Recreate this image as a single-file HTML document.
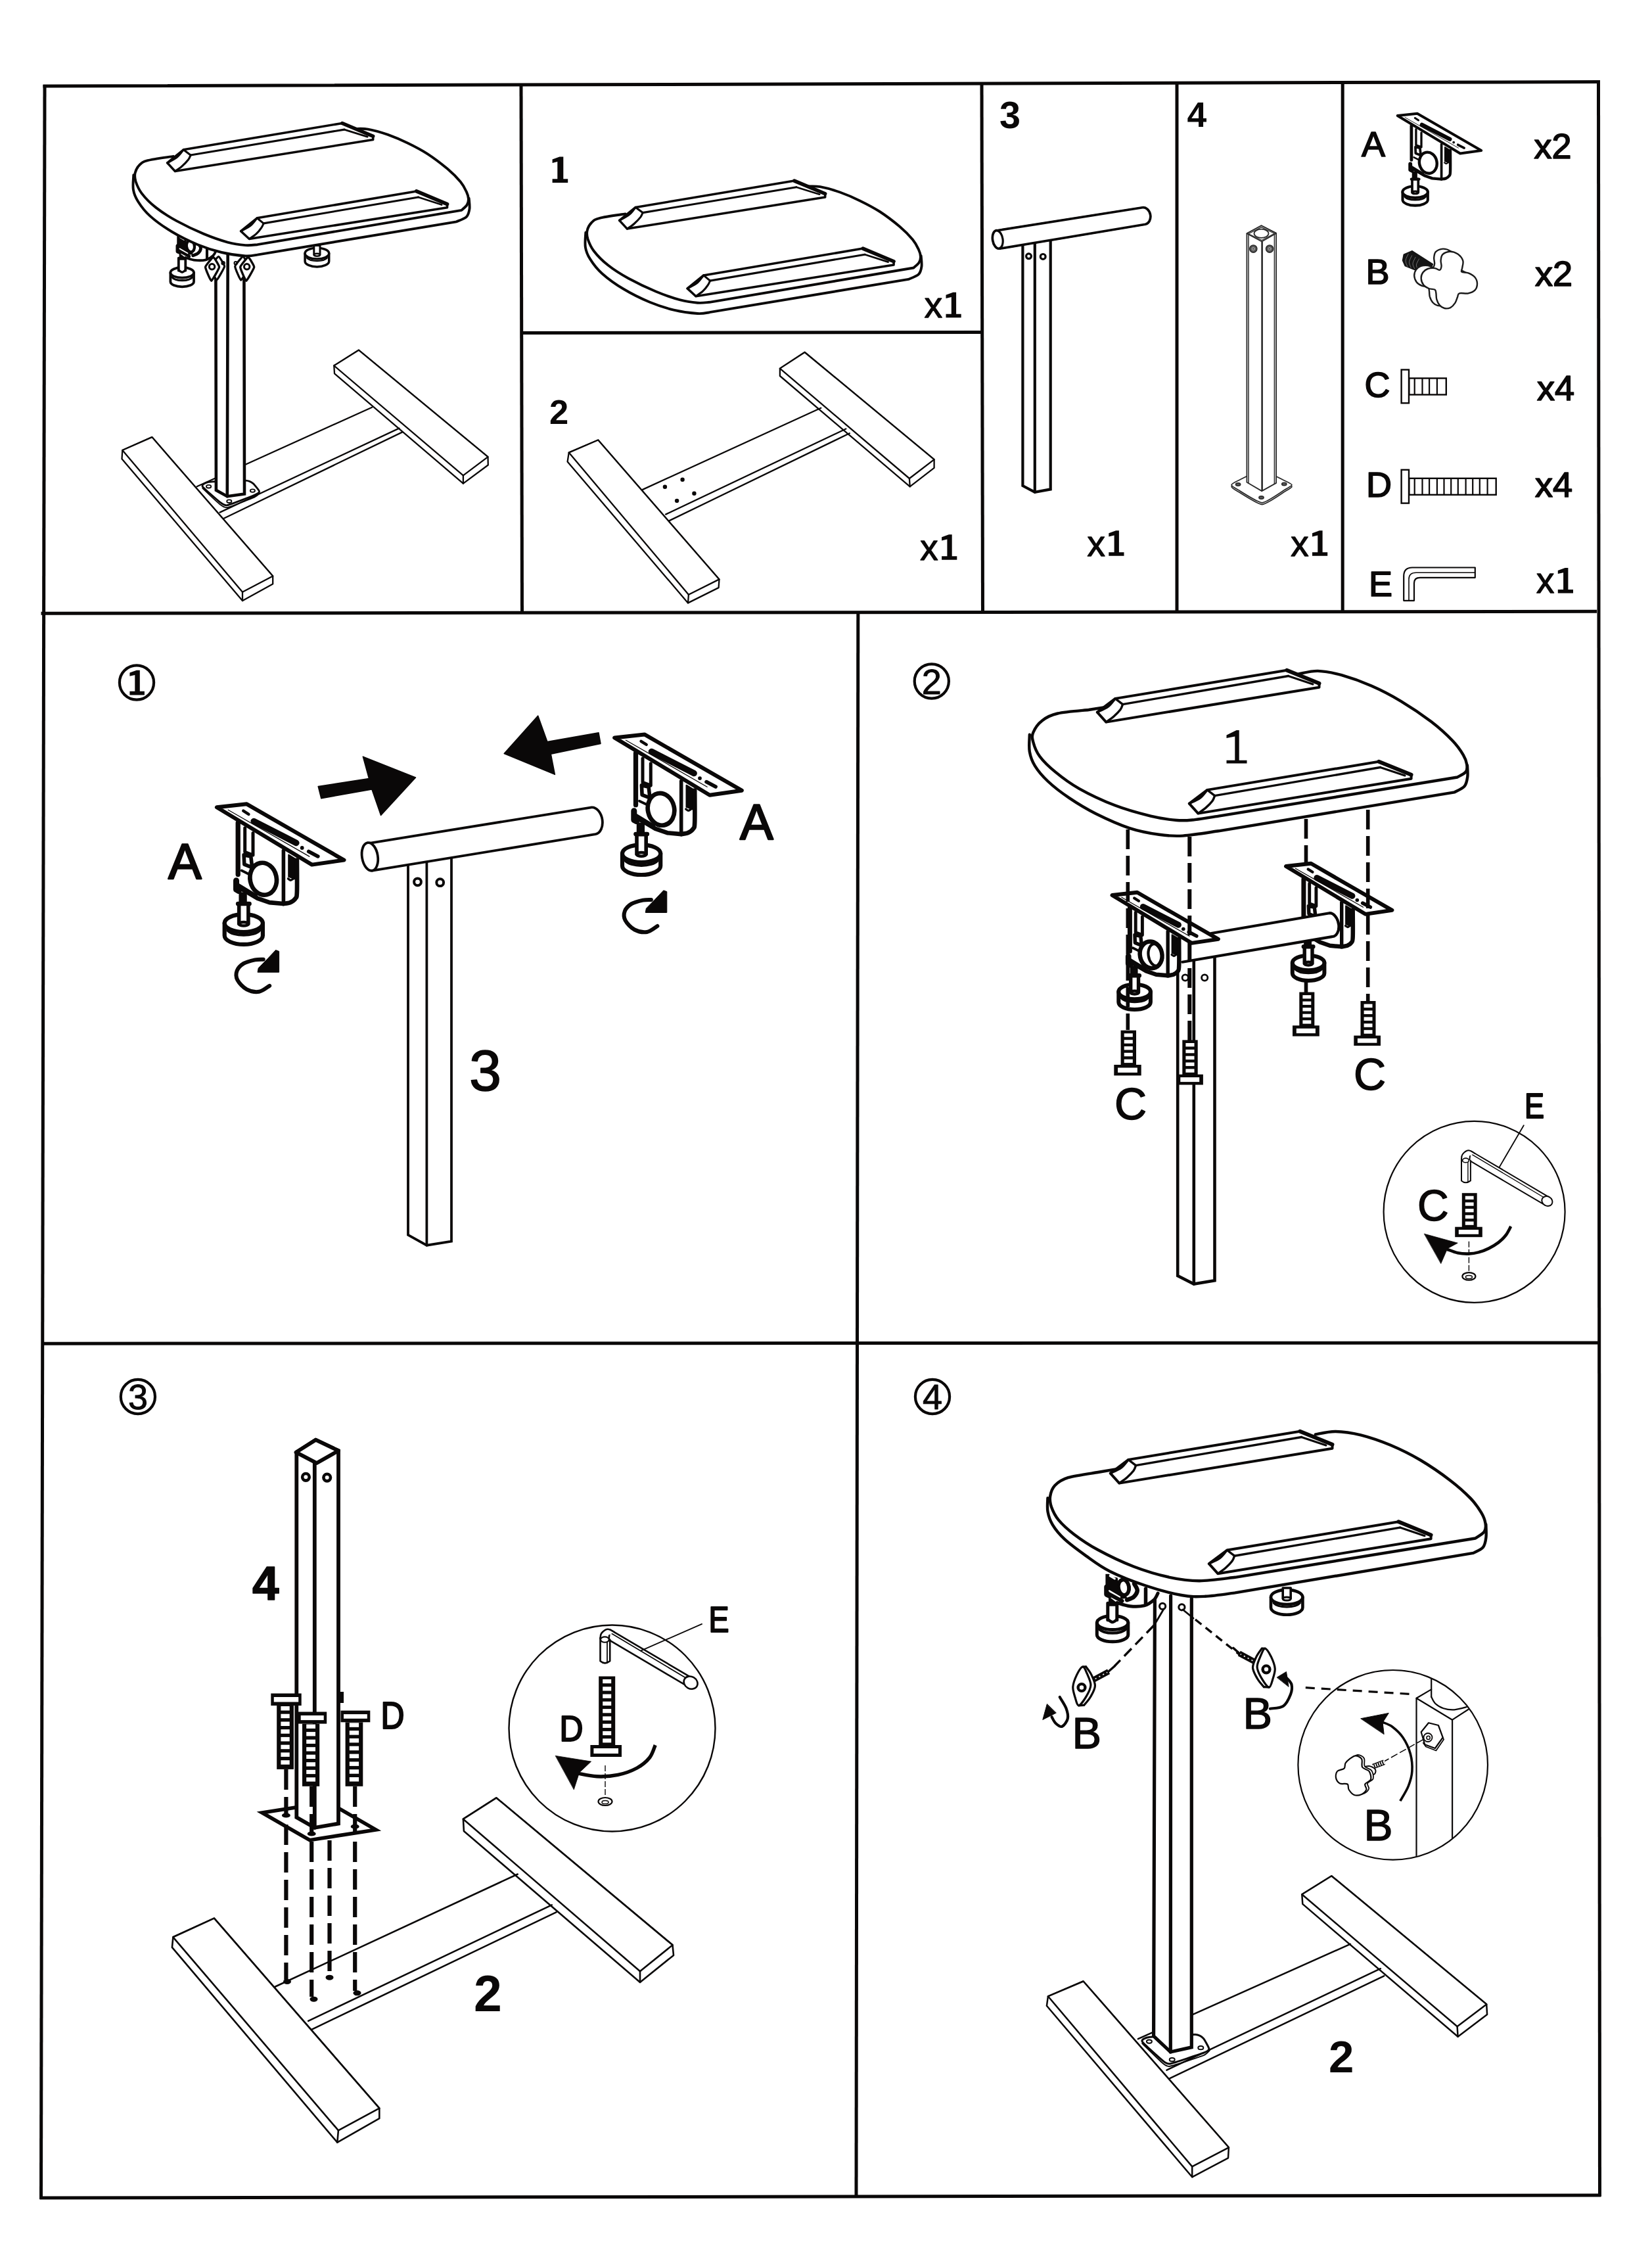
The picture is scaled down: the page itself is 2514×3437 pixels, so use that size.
<!DOCTYPE html>
<html><head><meta charset="utf-8"><title>Assembly instructions</title>
<style>
html,body{margin:0;padding:0;background:#fff;}
body{width:2514px;height:3437px;overflow:hidden;}
svg{display:block;font-family:"Liberation Sans",sans-serif;}
</style></head><body>
<svg width="2514" height="3437" viewBox="0 0 2514 3437">
<rect x="0" y="0" width="2514" height="3437" fill="#ffffff"/>
<line x1="68" y1="131" x2="2432.5" y2="124.5" fill="none" stroke="#0a0808" stroke-width="5" stroke-linecap="square" stroke-linejoin="round"/>
<line x1="68" y1="129" x2="62.5" y2="3346" fill="none" stroke="#0a0808" stroke-width="5" stroke-linejoin="round"/>
<line x1="2432.5" y1="122" x2="2434.5" y2="3342" fill="none" stroke="#0a0808" stroke-width="5" stroke-linejoin="round"/>
<line x1="60.5" y1="3344" x2="2436" y2="3340" fill="none" stroke="#0a0808" stroke-width="5" stroke-linejoin="round"/>
<line x1="62.5" y1="933.2" x2="2430" y2="930.3" fill="none" stroke="#0a0808" stroke-width="5" stroke-linejoin="round"/>
<line x1="64" y1="2044.2" x2="2434" y2="2043" fill="none" stroke="#0a0808" stroke-width="5" stroke-linejoin="round"/>
<line x1="1305.8" y1="931" x2="1303" y2="3342" fill="none" stroke="#0a0808" stroke-width="5" stroke-linejoin="round"/>
<line x1="793" y1="129" x2="794.5" y2="933" fill="none" stroke="#0a0808" stroke-width="5" stroke-linejoin="round"/>
<line x1="1494" y1="127" x2="1495.5" y2="933" fill="none" stroke="#0a0808" stroke-width="5" stroke-linejoin="round"/>
<line x1="1791" y1="126" x2="1791" y2="932" fill="none" stroke="#0a0808" stroke-width="5" stroke-linejoin="round"/>
<line x1="2043.2" y1="125.5" x2="2043.2" y2="931.5" fill="none" stroke="#0a0808" stroke-width="5" stroke-linejoin="round"/>
<line x1="794" y1="506.5" x2="1495" y2="505.5" fill="none" stroke="#0a0808" stroke-width="5" stroke-linejoin="round"/>
<circle cx="208" cy="1038.5" r="26.1" fill="none" stroke="#0a0808" stroke-width="4.2" stroke-linecap="round" stroke-linejoin="round"/>
<path d="M212.8,1019.7L212.8,1051.7L219.9,1051.7L219.9,1057.4L197.4,1057.4L197.4,1051.7L205.3,1051.7L205.3,1026.9L197.4,1028.7L197.4,1023.4L207.9,1019.7Z" fill="#0a0808"/>
<circle cx="1417.8" cy="1036.5" r="26.1" fill="none" stroke="#0a0808" stroke-width="4.2" stroke-linecap="round" stroke-linejoin="round"/>
<text x="1417.8" y="1055.8" font-size="54" font-weight="normal" text-anchor="middle" fill="#0a0808" stroke="#0a0808" stroke-width="0.9" stroke-linejoin="round" >2</text>
<circle cx="209.9" cy="2125" r="26.1" fill="none" stroke="#0a0808" stroke-width="4.2" stroke-linecap="round" stroke-linejoin="round"/>
<text x="209.9" y="2144.3" font-size="54" font-weight="normal" text-anchor="middle" fill="#0a0808" stroke="#0a0808" stroke-width="0.9" stroke-linejoin="round" >3</text>
<circle cx="1419" cy="2125" r="26.1" fill="none" stroke="#0a0808" stroke-width="4.2" stroke-linecap="round" stroke-linejoin="round"/>
<text x="1419" y="2144.3" font-size="54" font-weight="normal" text-anchor="middle" fill="#0a0808" stroke="#0a0808" stroke-width="0.9" stroke-linejoin="round" >4</text>
<path d="M186.3,685L185.5,698.2L369,914L415.2,888.4L415.2,876.4L231.3,665.1Z" fill="#fff" stroke="#0a0808" stroke-width="2.3" stroke-linecap="round" stroke-linejoin="round"/>
<path d="M186.3,685L231.3,665.1L415.2,876.4L369,900.8Z" fill="#fff" stroke="#0a0808" stroke-width="2.3" stroke-linecap="round" stroke-linejoin="round"/>
<path d="M369,900.8L369,914" fill="none" stroke="#0a0808" stroke-width="2.3" stroke-linecap="round" stroke-linejoin="round"/>
<path d="M508.3,556.3L509,568.3L704.9,735.7L742.8,707.5L742.5,695.2L545.8,532.7Z" fill="#fff" stroke="#0a0808" stroke-width="2.3" stroke-linecap="round" stroke-linejoin="round"/>
<path d="M508.3,556.3L545.8,532.7L742.5,695.2L704.9,723.3Z" fill="#fff" stroke="#0a0808" stroke-width="2.3" stroke-linecap="round" stroke-linejoin="round"/>
<path d="M704.9,723.3L704.9,735.7" fill="none" stroke="#0a0808" stroke-width="2.3" stroke-linecap="round" stroke-linejoin="round"/>
<path d="M299.6,740.2L566.1,619.7" fill="none" stroke="#0a0808" stroke-width="2.3" stroke-linecap="round" stroke-linejoin="round"/>
<path d="M334.5,779.6L607.4,651.6" fill="none" stroke="#0a0808" stroke-width="2.3" stroke-linecap="round" stroke-linejoin="round"/>
<path d="M340.1,789L611.9,657.6" fill="none" stroke="#0a0808" stroke-width="2.3" stroke-linecap="round" stroke-linejoin="round"/>
<path d="M308.2,740.2C306.8,737.7 312.2,734.2 317.6,733.4C323.1,732.7 368.3,731 373.9,731.2C379.6,731.4 383.5,734.3 385.2,735.7C386.9,737.1 394.4,746.2 394.6,747.7C394.7,749.2 391.1,751.6 387.1,753.3C383,755.1 350.2,767.8 345.8,768.7C341.4,769.6 337.6,766.2 334.5,763.8C331.4,761.5 309.7,742.7 308.2,740.2Z" fill="#fff" stroke="#0a0808" stroke-width="2.8" stroke-linecap="round" stroke-linejoin="round"/>
<path d="M308.2,742.8C310.4,744.9 331.4,764.8 334.5,767.2C337.6,769.7 341.4,773 345.8,772.1C350.2,771.2 382.9,758.5 387.1,756.7C391.2,754.9 394.6,750.9 395.3,750.3" fill="none" stroke="#0a0808" stroke-width="1.8" stroke-linecap="round" stroke-linejoin="round"/>
<ellipse cx="317.6" cy="740.2" rx="3.6" ry="2.3" fill="#fff" stroke="#0a0808" stroke-width="1.8" stroke-linecap="round" stroke-linejoin="round"/>
<ellipse cx="348.8" cy="762.7" rx="3.6" ry="2.3" fill="#fff" stroke="#0a0808" stroke-width="1.8" stroke-linecap="round" stroke-linejoin="round"/>
<ellipse cx="384.4" cy="746.6" rx="3.6" ry="2.3" fill="#fff" stroke="#0a0808" stroke-width="1.8" stroke-linecap="round" stroke-linejoin="round"/>
<path d="M328.4,420L328.9,745.8L345.8,755.2L372,751.5L371.4,420" fill="#fff" stroke="#0a0808" stroke-width="4.6" stroke-linecap="round"/>
<path d="M346.7,385L345.8,755.2" fill="none" stroke="#0a0808" stroke-width="4.6" stroke-linecap="round" stroke-linejoin="round"/>
<path d="M259.4,414.8L259.4,428.5A17.8,7.9 0 0 0 295,428.5L295,414.8" fill="#fff" stroke="#0a0808" stroke-width="3.8" stroke-linecap="round" stroke-linejoin="round"/>
<ellipse cx="277.2" cy="414.8" rx="17.8" ry="7.9" fill="#fff" stroke="#0a0808" stroke-width="3.8" stroke-linecap="round" stroke-linejoin="round"/>
<path d="M262,421.8A15.9,6.7 0 0 0 292.5,421.8" fill="none" stroke="#0a0808" stroke-width="3.2" stroke-linecap="round" stroke-linejoin="round"/>
<path d="M271.8,411.7L271.8,392.6L282.3,392.6L282.3,411.7" fill="#fff" stroke="#0a0808" stroke-width="3.8" stroke-linecap="round" stroke-linejoin="round"/>
<path d="M271.8,411C272.7,411.5 275.5,414.2 277.2,414.2C279,414.2 281.5,411.5 282.3,411" fill="none" stroke="#0a0808" stroke-width="3.4" stroke-linecap="round" stroke-linejoin="round"/>
<path d="M273.4,386.2L281,386.2L281,395.1L273.4,395.1Z" fill="#0a0808" stroke="#0a0808" stroke-width="1.5" stroke-linecap="round" stroke-linejoin="round"/>
<path d="M271.5,358.9L271.5,383.7L282.3,392L296.9,395.8L313.4,395.1L324.3,388.8L328.7,379.9L309.6,369.1L288,360.8Z" fill="#fff"/>
<path d="M282.3,392C284.7,392.6 291.7,395.3 296.9,395.9C302.1,396.4 308.9,396.4 313.4,395.3C318,394.1 321.7,391.3 324.3,388.9C326.8,386.5 328.2,382.4 329,381.1" fill="none" stroke="#0a0808" stroke-width="3.8" stroke-linecap="round" stroke-linejoin="round"/>
<path d="M315,376.1L315,392.9" fill="none" stroke="#0a0808" stroke-width="4.1" stroke-linecap="round" stroke-linejoin="round"/>
<path d="M302,370.3C302.6,371.6 305.6,375.5 305.5,378C305.4,380.5 303.3,383.5 301.4,385.3C299.4,387.1 295,388.2 293.7,388.8" fill="none" stroke="#0a0808" stroke-width="4.9" stroke-linecap="round" stroke-linejoin="round"/>
<ellipse cx="289.9" cy="374.5" rx="5.8" ry="8.6" fill="#fff" stroke="#0a0808" stroke-width="4.9" stroke-linecap="round" stroke-linejoin="round" transform="rotate(-8 289.9 374.5)"/>
<path d="M273.4,362.7L282.3,364L284.2,378L293.1,386.2L288,386.9L273.4,378Z" fill="#0a0808" stroke="#0a0808" stroke-width="1.5" stroke-linecap="round" stroke-linejoin="round"/>
<ellipse cx="289.9" cy="374.5" rx="3.8" ry="6.7" fill="#fff" transform="rotate(-8 289.9 374.5)"/>
<path d="M271.5,359.2L271.5,373.5" fill="none" stroke="#0a0808" stroke-width="4.5" stroke-linejoin="round"/>
<path d="M270.5,374.2L270.5,382.4L273.4,383.7" fill="none" stroke="#0a0808" stroke-width="6" stroke-linecap="round" stroke-linejoin="round"/>
<path d="M271.5,381.1L288,390" fill="none" stroke="#0a0808" stroke-width="4.5" stroke-linecap="round" stroke-linejoin="round"/>
<path d="M273.4,378.3L285.5,385.3" fill="none" stroke="#fff" stroke-width="1.7" stroke-linecap="round" stroke-linejoin="round"/>
<path d="M274.4,361.4L279.8,364.6" fill="none" stroke="#fff" stroke-width="2.2" stroke-linecap="round" stroke-linejoin="round"/>
<path d="M464.1,385.6L464.1,397.5A18.3,8.4 0 0 0 500.7,397.5L500.7,385.6" fill="#fff" stroke="#0a0808" stroke-width="3.5" stroke-linecap="round" stroke-linejoin="round"/>
<ellipse cx="482.4" cy="385.6" rx="18.3" ry="8.4" fill="#fff" stroke="#0a0808" stroke-width="3.5" stroke-linecap="round" stroke-linejoin="round"/>
<path d="M467,392.5A16.4,6.9 0 0 0 497.8,392.5" fill="none" stroke="#0a0808" stroke-width="2.3" stroke-linecap="round" stroke-linejoin="round"/>
<path d="M477.8,387.6L477.8,373.6L487,373.6L487,387.6" fill="#fff" stroke="#0a0808" stroke-width="3" stroke-linecap="round" stroke-linejoin="round"/>
<ellipse cx="482.4" cy="387.8" rx="4.6" ry="2" fill="#fff" stroke="#0a0808" stroke-width="2.4" stroke-linecap="round" stroke-linejoin="round"/>
<path d="M332.6,390.3C333.8,390.3 341.8,403.2 341.6,405.3C341.4,407.4 330.8,426.3 329.6,426.3C328.4,426.3 320.4,407.4 320.6,405.3C320.8,403.2 331.4,390.3 332.6,390.3Z" fill="#fff" stroke="#0a0808" stroke-width="3.2" stroke-linecap="round" stroke-linejoin="round"/>
<circle cx="339.6" cy="400.3" r="2.2" fill="none" stroke="#0a0808" stroke-width="2" stroke-linecap="round" stroke-linejoin="round"/>
<path d="M324.6,391.3C325.8,391.3 333.8,404.2 333.6,406.3C333.4,408.4 322.8,427.3 321.6,427.3C320.4,427.3 312.4,408.4 312.6,406.3C312.8,404.2 323.4,391.3 324.6,391.3Z" fill="#fff" stroke="#0a0808" stroke-width="3.4" stroke-linecap="round" stroke-linejoin="round"/>
<circle cx="322.6" cy="405.8" r="4.2" fill="#fff" stroke="#0a0808" stroke-width="3" stroke-linecap="round" stroke-linejoin="round"/>
<path d="M369.7,390.3C370.9,390.3 378.9,403.2 378.7,405.3C378.5,407.4 367.9,426.3 366.7,426.3C365.5,426.3 357.5,407.4 357.7,405.3C357.9,403.2 368.5,390.3 369.7,390.3Z" fill="#fff" stroke="#0a0808" stroke-width="3.2" stroke-linecap="round" stroke-linejoin="round"/>
<circle cx="358.7" cy="400.3" r="2.2" fill="none" stroke="#0a0808" stroke-width="2" stroke-linecap="round" stroke-linejoin="round"/>
<path d="M377.7,391.3C378.9,391.3 386.9,404.2 386.7,406.3C386.5,408.4 375.9,427.3 374.7,427.3C373.5,427.3 365.5,408.4 365.7,406.3C365.9,404.2 376.5,391.3 377.7,391.3Z" fill="#fff" stroke="#0a0808" stroke-width="3.4" stroke-linecap="round" stroke-linejoin="round"/>
<circle cx="375.7" cy="405.8" r="4.2" fill="#fff" stroke="#0a0808" stroke-width="3" stroke-linecap="round" stroke-linejoin="round"/>
<path d="M203.3,266.1C203.2,269.9 201.7,281.9 202.9,288.7C204,295.5 205.9,300.1 210.2,306.8C214.4,313.5 219.8,321.1 228.3,328.6C236.8,336.2 248.9,345 261,352.2C273.1,359.5 288.2,366.9 300.9,372.2C313.7,377.5 325.1,381.1 337.3,384C349.4,386.9 364.5,388.8 373.6,389.4C382.7,390 388.7,387.9 391.7,387.6L694.6,337.3C697.2,336.1 706.6,333 709.9,329.8C713.2,326.5 713.8,322.4 714.5,317.7C715.1,313 713.8,304.4 713.7,301.7Z" fill="#fff"/>
<path d="M540.4,195.9C543.7,196 551.8,195.1 560.1,196.6C568.4,198.1 580.3,201.4 590.3,204.9C600.4,208.5 610.6,212.9 620.6,217.8C630.7,222.7 640.8,227.9 650.9,234.4C661,241 672.8,250.1 681.2,257.1C689.5,264.2 696.1,271 700.9,276.8C705.7,282.6 707.9,287.6 709.9,291.9C711.9,296.2 712.8,299.2 712.9,302.5C713.1,305.8 712.5,308.7 710.7,311.6C708.9,314.5 703.7,318.6 702.3,319.9L391.7,372.2C388.7,372.3 381.2,373.7 373.6,373.1C366,372.5 357,371.5 346.4,368.6C335.8,365.7 323.1,361.3 310.1,355.9C297,350.4 280.4,342.5 268.3,335.9C256.2,329.2 246.2,322.9 237.4,315.9C228.6,309 220.7,300.8 215.6,294.1C210.5,287.4 208.2,281.1 206.5,276C204.9,270.8 204.7,267.3 205.6,263.2C206.5,259.2 208.8,254.6 212,251.4C215.1,248.2 216,246.4 224.7,244.2C233.3,241.9 257.2,238.9 263.7,237.8L263.7,237.8" fill="#fff" stroke="#0a0808" stroke-width="3.9" stroke-linecap="round" stroke-linejoin="round"/>
<path d="M203.3,266.1C203.2,269.9 201.7,281.9 202.9,288.7C204,295.5 205.9,300.1 210.2,306.8C214.4,313.5 219.8,321.1 228.3,328.6C236.8,336.2 248.9,345 261,352.2C273.1,359.5 288.2,366.9 300.9,372.2C313.7,377.5 325.1,381.1 337.3,384C349.4,386.9 364.5,388.8 373.6,389.4C382.7,390 388.7,387.9 391.7,387.6L694.6,337.3C697.2,336.1 706.6,333 709.9,329.8C713.2,326.5 713.8,322.4 714.5,317.7C715.1,313 713.8,304.4 713.7,301.7" fill="none" stroke="#0a0808" stroke-width="3.9" stroke-linecap="round" stroke-linejoin="round"/>
<path d="M279.2,227.8L520.8,187.5L567.7,207.2L567.7,212.5L266.4,260.5L254.6,247.8Z" fill="#fff" stroke="#0a0808" stroke-width="3.5" stroke-linecap="round" stroke-linejoin="round"/>
<path d="M290.1,236L523.9,197.1" fill="none" stroke="#0a0808" stroke-width="3.1" stroke-linecap="round" stroke-linejoin="round"/>
<path d="M266.4,260.5C268.2,259.3 273.7,255.9 277,252.9C280.4,249.9 284.5,245.6 286.7,242.8C288.8,240 289.5,237.1 290.1,236" fill="none" stroke="#0a0808" stroke-width="3.1" stroke-linecap="round" stroke-linejoin="round"/>
<path d="M279.2,227.8C277.6,229.7 273.9,235.5 269.8,238.8C265.8,242.2 257.2,246.3 254.6,247.8" fill="none" stroke="#0a0808" stroke-width="3.1" stroke-linecap="round" stroke-linejoin="round"/>
<path d="M290.1,236L279.2,227.8" fill="none" stroke="#0a0808" stroke-width="3.1" stroke-linecap="round" stroke-linejoin="round"/>
<path d="M520.8,187.5L567.7,207.2" fill="none" stroke="#0a0808" stroke-width="5.5" stroke-linecap="round" stroke-linejoin="round"/>
<path d="M523.9,197.1L559.2,208.1" fill="none" stroke="#0a0808" stroke-width="2.7" stroke-linecap="round" stroke-linejoin="round"/>
<path d="M391.2,331.8L633.7,290.9L680.6,310.6L680.6,315.8L379.3,363.5L366.6,351.7Z" fill="#fff" stroke="#0a0808" stroke-width="3.5" stroke-linecap="round" stroke-linejoin="round"/>
<path d="M401.1,339.9L636.6,300" fill="none" stroke="#0a0808" stroke-width="3.1" stroke-linecap="round" stroke-linejoin="round"/>
<path d="M379.3,363.5C381.1,362.3 386.9,358.7 389.9,355.9C393,353.1 395.9,349.4 397.7,346.7C399.6,344.1 400.5,341.1 401.1,339.9" fill="none" stroke="#0a0808" stroke-width="3.1" stroke-linecap="round" stroke-linejoin="round"/>
<path d="M391.2,331.8C389.6,333.6 385.9,339.5 381.8,342.8C377.7,346.1 369.2,350.2 366.6,351.7" fill="none" stroke="#0a0808" stroke-width="3.1" stroke-linecap="round" stroke-linejoin="round"/>
<path d="M401.1,339.9L391.2,331.8" fill="none" stroke="#0a0808" stroke-width="3.1" stroke-linecap="round" stroke-linejoin="round"/>
<path d="M633.7,290.9L680.6,310.6" fill="none" stroke="#0a0808" stroke-width="5.5" stroke-linecap="round" stroke-linejoin="round"/>
<path d="M636.6,300L672.1,311.5" fill="none" stroke="#0a0808" stroke-width="2.7" stroke-linecap="round" stroke-linejoin="round"/>
<path d="M891.3,353.7C891.2,357.5 889.7,369.5 890.9,376.3C892,383.1 893.9,387.7 898.2,394.4C902.4,401.1 907.8,408.7 916.3,416.2C924.8,423.8 936.9,432.6 949,439.8C961.1,447.1 976.2,454.5 988.9,459.8C1001.7,465.1 1013.1,468.7 1025.3,471.6C1037.4,474.5 1052.5,476.4 1061.6,477C1070.7,477.6 1076.7,475.5 1079.7,475.2L1382.6,424.9C1385.2,423.7 1394.6,420.6 1397.9,417.4C1401.2,414.1 1401.8,410 1402.5,405.3C1403.1,400.6 1401.8,392 1401.7,389.3Z" fill="#fff"/>
<path d="M1228.4,283.5C1231.7,283.6 1239.8,282.7 1248.1,284.2C1256.4,285.7 1268.3,289 1278.3,292.5C1288.4,296.1 1298.6,300.5 1308.6,305.4C1318.7,310.3 1328.8,315.5 1338.9,322C1349,328.6 1360.8,337.7 1369.2,344.7C1377.5,351.8 1384.1,358.6 1388.9,364.4C1393.7,370.2 1395.9,375.2 1397.9,379.5C1399.9,383.8 1400.8,386.8 1400.9,390.1C1401.1,393.4 1400.5,396.3 1398.7,399.2C1396.9,402.1 1391.7,406.2 1390.3,407.5L1079.7,459.8C1076.7,459.9 1069.2,461.3 1061.6,460.7C1054,460.1 1045,459.1 1034.4,456.2C1023.8,453.3 1011.1,448.9 998.1,443.5C985,438 968.4,430.1 956.3,423.5C944.2,416.8 934.2,410.5 925.4,403.5C916.6,396.6 908.7,388.4 903.6,381.7C898.5,375 896.2,368.7 894.5,363.6C892.9,358.4 892.7,354.9 893.6,350.8C894.5,346.8 896.8,342.2 900,339C903.1,335.8 904,334 912.7,331.8C921.3,329.5 945.2,326.5 951.7,325.4L951.7,325.4" fill="#fff" stroke="#0a0808" stroke-width="3.9" stroke-linecap="round" stroke-linejoin="round"/>
<path d="M891.3,353.7C891.2,357.5 889.7,369.5 890.9,376.3C892,383.1 893.9,387.7 898.2,394.4C902.4,401.1 907.8,408.7 916.3,416.2C924.8,423.8 936.9,432.6 949,439.8C961.1,447.1 976.2,454.5 988.9,459.8C1001.7,465.1 1013.1,468.7 1025.3,471.6C1037.4,474.5 1052.5,476.4 1061.6,477C1070.7,477.6 1076.7,475.5 1079.7,475.2L1382.6,424.9C1385.2,423.7 1394.6,420.6 1397.9,417.4C1401.2,414.1 1401.8,410 1402.5,405.3C1403.1,400.6 1401.8,392 1401.7,389.3" fill="none" stroke="#0a0808" stroke-width="3.9" stroke-linecap="round" stroke-linejoin="round"/>
<path d="M967.2,315.4L1208.8,275.1L1255.7,294.8L1255.7,300.1L954.4,348.1L942.6,335.4Z" fill="#fff" stroke="#0a0808" stroke-width="3.5" stroke-linecap="round" stroke-linejoin="round"/>
<path d="M978.1,323.6L1211.9,284.7" fill="none" stroke="#0a0808" stroke-width="3.1" stroke-linecap="round" stroke-linejoin="round"/>
<path d="M954.4,348.1C956.2,346.9 961.7,343.5 965,340.5C968.4,337.5 972.5,333.2 974.7,330.4C976.8,327.6 977.5,324.7 978.1,323.6" fill="none" stroke="#0a0808" stroke-width="3.1" stroke-linecap="round" stroke-linejoin="round"/>
<path d="M967.2,315.4C965.6,317.3 961.9,323.1 957.8,326.4C953.8,329.8 945.2,333.9 942.6,335.4" fill="none" stroke="#0a0808" stroke-width="3.1" stroke-linecap="round" stroke-linejoin="round"/>
<path d="M978.1,323.6L967.2,315.4" fill="none" stroke="#0a0808" stroke-width="3.1" stroke-linecap="round" stroke-linejoin="round"/>
<path d="M1208.8,275.1L1255.7,294.8" fill="none" stroke="#0a0808" stroke-width="5.5" stroke-linecap="round" stroke-linejoin="round"/>
<path d="M1211.9,284.7L1247.2,295.7" fill="none" stroke="#0a0808" stroke-width="2.7" stroke-linecap="round" stroke-linejoin="round"/>
<path d="M1070.7,418.9L1313.2,378.1L1360.1,397.8L1360.1,403L1058.9,450.7L1046.1,438.9Z" fill="#fff" stroke="#0a0808" stroke-width="3.5" stroke-linecap="round" stroke-linejoin="round"/>
<path d="M1080.6,427.1L1316.1,387.2" fill="none" stroke="#0a0808" stroke-width="3.1" stroke-linecap="round" stroke-linejoin="round"/>
<path d="M1058.9,450.7C1060.6,449.4 1066.4,445.9 1069.4,443.1C1072.5,440.3 1075.4,436.6 1077.2,433.9C1079.1,431.2 1080.1,428.2 1080.6,427.1" fill="none" stroke="#0a0808" stroke-width="3.1" stroke-linecap="round" stroke-linejoin="round"/>
<path d="M1070.7,418.9C1069.1,420.8 1065.4,426.6 1061.4,430C1057.3,433.3 1048.7,437.4 1046.1,438.9" fill="none" stroke="#0a0808" stroke-width="3.1" stroke-linecap="round" stroke-linejoin="round"/>
<path d="M1080.6,427.1L1070.7,418.9" fill="none" stroke="#0a0808" stroke-width="3.1" stroke-linecap="round" stroke-linejoin="round"/>
<path d="M1313.2,378.1L1360.1,397.8" fill="none" stroke="#0a0808" stroke-width="5.5" stroke-linecap="round" stroke-linejoin="round"/>
<path d="M1316.1,387.2L1351.6,398.6" fill="none" stroke="#0a0808" stroke-width="2.7" stroke-linecap="round" stroke-linejoin="round"/>
<path d="M857.3,238.5L857.3,272.2L864.2,272.2L864.2,278.1L840.6,278.1L840.6,272.2L848.3,272.2L848.3,246L840.6,248L840.6,242.4L851.5,238.5Z" fill="#0a0808"/>
<text x="1406.7" y="483.2" font-size="54.6" font-weight="normal" text-anchor="start" fill="#0a0808" stroke="#0a0808" stroke-width="1.3" stroke-linejoin="round" >x</text>
<path d="M1455.1,444.7L1455.1,477.7L1462.7,477.7L1462.7,483.2L1439.5,483.2L1439.5,477.7L1447.8,477.7L1447.8,452L1439.5,453.9L1439.5,448.7L1450.4,444.7Z" fill="#0a0808"/>
<path d="M865.7,688.6L863.6,702.5L1047,917.4L1093.6,894.1L1094.5,881.4L910.2,669.5Z" fill="#fff" stroke="#0a0808" stroke-width="2.3" stroke-linecap="round" stroke-linejoin="round"/>
<path d="M865.7,688.6L910.2,669.5L1094.5,881.4L1047.9,904.7Z" fill="#fff" stroke="#0a0808" stroke-width="2.3" stroke-linecap="round" stroke-linejoin="round"/>
<path d="M1047.9,904.7L1047,917.4" fill="none" stroke="#0a0808" stroke-width="2.3" stroke-linecap="round" stroke-linejoin="round"/>
<path d="M1186.9,560.6L1186.9,572L1384.7,740.3L1421.6,711.9L1421.6,699.2L1224.6,536Z" fill="#fff" stroke="#0a0808" stroke-width="2.3" stroke-linecap="round" stroke-linejoin="round"/>
<path d="M1186.9,560.6L1224.6,536L1421.6,699.2L1383.9,728Z" fill="#fff" stroke="#0a0808" stroke-width="2.3" stroke-linecap="round" stroke-linejoin="round"/>
<path d="M1383.9,728L1384.7,740.3" fill="none" stroke="#0a0808" stroke-width="2.3" stroke-linecap="round" stroke-linejoin="round"/>
<path d="M978,744.9L1249.2,620.8" fill="none" stroke="#0a0808" stroke-width="2.3" stroke-linecap="round" stroke-linejoin="round"/>
<path d="M1013.1,782.6L1287.3,652.5" fill="none" stroke="#0a0808" stroke-width="2.3" stroke-linecap="round" stroke-linejoin="round"/>
<path d="M1018.2,792.4L1292.8,659.3" fill="none" stroke="#0a0808" stroke-width="2.3" stroke-linecap="round" stroke-linejoin="round"/>
<circle cx="1011.9" cy="740.7" r="3.2" fill="#0a0808"/>
<circle cx="1038.6" cy="729.7" r="3.2" fill="#0a0808"/>
<circle cx="1030.1" cy="761.9" r="3.2" fill="#0a0808"/>
<circle cx="1056.4" cy="750.8" r="3.2" fill="#0a0808"/>
<text x="836" y="645.3" font-size="52.5" font-weight="bold" text-anchor="start" fill="#0a0808" >2</text>
<text x="1400.3" y="851.7" font-size="54.6" font-weight="normal" text-anchor="start" fill="#0a0808" stroke="#0a0808" stroke-width="1.3" stroke-linejoin="round" >x</text>
<path d="M1448.7,813.2L1448.7,846.2L1456.3,846.2L1456.3,851.7L1433.1,851.7L1433.1,846.2L1441.4,846.2L1441.4,820.5L1433.1,822.4L1433.1,817.2L1444,813.2Z" fill="#0a0808"/>
<path d="M1556.4,373.5L1556.4,739L1574.8,748.8L1598.7,744.4L1598.7,365.5" fill="#fff" stroke="#0a0808" stroke-width="4.2" stroke-linecap="round"/>
<path d="M1574.8,370.7L1574.8,748.8" fill="none" stroke="#0a0808" stroke-width="4.2" stroke-linecap="round" stroke-linejoin="round"/>
<circle cx="1565.5" cy="389.8" r="3.9" fill="#fff" stroke="#0a0808" stroke-width="3.2" stroke-linecap="round" stroke-linejoin="round"/>
<circle cx="1587.2" cy="390.4" r="3.9" fill="#fff" stroke="#0a0808" stroke-width="3.2" stroke-linecap="round" stroke-linejoin="round"/>
<path d="M1519.1,350.7L1738.6,316A10,12.7 -9 0 1 1743,341L1521.7,377.9" fill="#fff" stroke="#0a0808" stroke-width="4.2" stroke-linecap="round" stroke-linejoin="round"/>
<ellipse cx="1518.4" cy="364.4" rx="7.6" ry="13.7" fill="#fff" stroke="#0a0808" stroke-width="4.2" stroke-linecap="round" stroke-linejoin="round" transform="rotate(-9 1518.4 364.4)"/>
<path d="M1519.1,350.7L1738.6,316A10,12.7 -9 0 1 1743,341L1521.7,377.9" fill="#fff" stroke="#0a0808" stroke-width="3.2" stroke-linecap="round" stroke-linejoin="round"/>
<ellipse cx="1518.4" cy="364.4" rx="7.6" ry="13.7" fill="#fff" stroke="#0a0808" stroke-width="3.2" stroke-linecap="round" stroke-linejoin="round" transform="rotate(-9 1518.4 364.4)"/>
<text x="1521" y="194.5" font-size="57.5" font-weight="bold" text-anchor="start" fill="#0a0808" >3</text>
<text x="1654.5" y="845.7" font-size="54.6" font-weight="normal" text-anchor="start" fill="#0a0808" stroke="#0a0808" stroke-width="1.3" stroke-linejoin="round" >x</text>
<path d="M1702.9,807.2L1702.9,840.2L1710.5,840.2L1710.5,845.7L1687.3,845.7L1687.3,840.2L1695.6,840.2L1695.6,814.5L1687.3,816.4L1687.3,811.2L1698.2,807.2Z" fill="#0a0808"/>
<path d="M1874.1,740.5C1874.1,739.2 1879.9,735.8 1884.1,733.8C1888.3,731.8 1913,718.8 1919.5,718.8C1926,718.8 1950.7,731.8 1954.9,733.8C1959.2,735.8 1966,739.2 1966,740.5C1966,741.8 1959.1,745.5 1954.9,748C1950.8,750.5 1927.1,767.5 1920.6,767.5C1914.1,767.5 1888.4,750.5 1884.1,748C1879.8,745.5 1874.1,741.8 1874.1,740.5Z" fill="#fff" stroke="#2a2a2a" stroke-width="1.8" stroke-linecap="round" stroke-linejoin="round"/>
<path d="M1874.1,737.8C1874.1,736.5 1879.9,733.2 1884.1,731.2C1888.3,729.2 1913,716.1 1919.5,716.1C1926,716.1 1950.7,729.2 1954.9,731.2C1959.2,733.2 1966,736.5 1966,737.8C1966,739.1 1959.1,742.9 1954.9,745.3C1950.8,747.8 1927.1,764.8 1920.6,764.8C1914.1,764.8 1888.4,747.8 1884.1,745.3C1879.8,742.9 1874.1,739.1 1874.1,737.8Z" fill="#fff" stroke="#2a2a2a" stroke-width="1.8" stroke-linecap="round" stroke-linejoin="round"/>
<ellipse cx="1884.1" cy="737.1" rx="3.6" ry="2.2" fill="#555" stroke="#2a2a2a" stroke-width="1.6" stroke-linecap="round" stroke-linejoin="round"/>
<ellipse cx="1919.5" cy="757.1" rx="3.6" ry="2.2" fill="#555" stroke="#2a2a2a" stroke-width="1.6" stroke-linecap="round" stroke-linejoin="round"/>
<ellipse cx="1954.3" cy="736.5" rx="3.6" ry="2.2" fill="#555" stroke="#2a2a2a" stroke-width="1.6" stroke-linecap="round" stroke-linejoin="round"/>
<path d="M1897.4,355.3L1897.4,733.8L1920.2,747.1L1942.1,734.9L1942.1,354.9L1919.5,343.2Z" fill="#fff" stroke="#2a2a2a" stroke-width="1.8" stroke-linecap="round" stroke-linejoin="round"/>
<path d="M1900,357.1L1900,735.1" fill="none" stroke="#2a2a2a" stroke-width="1.5" stroke-linecap="round" stroke-linejoin="round"/>
<path d="M1939.4,356.7L1939.4,736" fill="none" stroke="#2a2a2a" stroke-width="1.5" stroke-linecap="round" stroke-linejoin="round"/>
<path d="M1920.2,367.5L1920.2,747.1" fill="none" stroke="#2a2a2a" stroke-width="1.8" stroke-linecap="round" stroke-linejoin="round"/>
<path d="M1921.3,368.2L1921.3,746.2" fill="none" stroke="#2a2a2a" stroke-width="1.2" stroke-linecap="round" stroke-linejoin="round"/>
<path d="M1897.4,355.3L1919.5,343.2L1942.1,354.9L1920.2,367.5Z" fill="#fff" stroke="#2a2a2a" stroke-width="1.8" stroke-linecap="round" stroke-linejoin="round"/>
<path d="M1900,355.8L1919.5,345.6L1939.4,355.3L1920.2,365.5Z" fill="none" stroke="#2a2a2a" stroke-width="1.2" stroke-linecap="round" stroke-linejoin="round"/>
<ellipse cx="1919.5" cy="355.3" rx="11" ry="6.6" fill="#fff" stroke="#2a2a2a" stroke-width="1.8" stroke-linecap="round" stroke-linejoin="round"/>
<circle cx="1907.3" cy="378.6" r="5.6" fill="#555" stroke="#2a2a2a" stroke-width="1.5" stroke-linecap="round" stroke-linejoin="round"/>
<circle cx="1907.3" cy="378.6" r="2.2" fill="#666" stroke="#aaa" stroke-width="1" stroke-linecap="round" stroke-linejoin="round"/>
<circle cx="1932.1" cy="378.6" r="5.6" fill="#555" stroke="#2a2a2a" stroke-width="1.5" stroke-linecap="round" stroke-linejoin="round"/>
<circle cx="1932.1" cy="378.6" r="2.2" fill="#666" stroke="#aaa" stroke-width="1" stroke-linecap="round" stroke-linejoin="round"/>
<text x="1806.5" y="193.2" font-size="53.5" font-weight="bold" text-anchor="start" fill="#0a0808" >4</text>
<text x="1964.2" y="845.7" font-size="54.6" font-weight="normal" text-anchor="start" fill="#0a0808" stroke="#0a0808" stroke-width="1.3" stroke-linejoin="round" >x</text>
<path d="M2012.6,807.2L2012.6,840.2L2020.2,840.2L2020.2,845.7L1997,845.7L1997,840.2L2005.3,840.2L2005.3,814.5L1997,816.4L1997,811.2L2007.9,807.2Z" fill="#0a0808"/>
<path d="M2134.5,292.1L2134.5,304.5A19.2,8.8 0 0 0 2172.8,304.5L2172.8,292.1" fill="#fff" stroke="#0a0808" stroke-width="4.1" stroke-linecap="round" stroke-linejoin="round"/>
<ellipse cx="2153.6" cy="292.1" rx="19.2" ry="8.8" fill="#fff" stroke="#0a0808" stroke-width="4.1" stroke-linecap="round" stroke-linejoin="round"/>
<path d="M2137.6,299.3A17.1,7.3 0 0 0 2169.7,299.3" fill="none" stroke="#0a0808" stroke-width="2.7" stroke-linecap="round" stroke-linejoin="round"/>
<path d="M2149,292.6L2149,272.4L2158.3,272.4L2158.3,292.6" fill="#fff" stroke="#0a0808" stroke-width="3.7" stroke-linecap="round" stroke-linejoin="round"/>
<ellipse cx="2153.6" cy="292.9" rx="4.7" ry="1.9" fill="#fff" stroke="#0a0808" stroke-width="3" stroke-linecap="round" stroke-linejoin="round"/>
<path d="M2152.8,261L2152.8,272.9" fill="none" stroke="#0a0808" stroke-width="8.1" stroke-linejoin="round"/>
<path d="M2147.9,272.6L2159.4,272.6" fill="none" stroke="#0a0808" stroke-width="4.4" stroke-linecap="round" stroke-linejoin="round"/>
<path d="M2147.9,191.5L2147.9,254.8L2167.6,267.2L2179.6,271.4L2193.6,272.6L2200.3,271.4L2206,267.2L2207,261L2207,223.7L2163,198.8Z" fill="#fff"/>
<path d="M2198.7,223.7L2207.3,228.9L2207.3,248.6L2198.7,245.4Z" fill="#0a0808" stroke="#0a0808" stroke-width="1.5" stroke-linecap="round" stroke-linejoin="round"/>
<path d="M2193.6,219.5L2193.6,271.4" fill="none" stroke="#0a0808" stroke-width="3.7" stroke-linecap="round" stroke-linejoin="round"/>
<path d="M2207,228.9C2207,234.2 2207.3,254.6 2207,261C2206.8,267.4 2206.6,265.7 2205.5,267.4C2204.4,269.1 2202.3,270.5 2200.3,271.4C2198.3,272.2 2194.7,272.4 2193.6,272.6" fill="none" stroke="#0a0808" stroke-width="4.4" stroke-linecap="round" stroke-linejoin="round"/>
<path d="M2198.2,247.5C2198.7,247.8 2199.9,249.1 2200.8,249.1C2201.7,249.1 2203,247.8 2203.4,247.5" fill="none" stroke="#0a0808" stroke-width="2.2" stroke-linecap="round" stroke-linejoin="round"/>
<path d="M2148.5,255.8L2167.6,267.2L2179.6,271.4L2193.6,272.6" fill="none" stroke="#0a0808" stroke-width="4.4" stroke-linecap="round" stroke-linejoin="round"/>
<path d="M2147.9,191.5L2147.9,243.4" fill="none" stroke="#0a0808" stroke-width="4.8" stroke-linecap="round" stroke-linejoin="round"/>
<path d="M2154.9,196.7L2154.9,220.8L2163,223.9L2163,201.9" fill="none" stroke="#0a0808" stroke-width="3.3" stroke-linecap="round" stroke-linejoin="round"/>
<path d="M2153.9,223.7L2160.9,225.2L2162.1,236.3L2154.3,233.2Z" fill="#fff" stroke="#0a0808" stroke-width="3.7" stroke-linecap="round" stroke-linejoin="round"/>
<path d="M2151.6,239.4L2160.9,244" fill="none" stroke="#0a0808" stroke-width="2.6" stroke-linecap="round" stroke-linejoin="round"/>
<path d="M2146.2,249.4L2146.2,258.4L2148.7,259.8" fill="none" stroke="#0a0808" stroke-width="5.9" stroke-linecap="round" stroke-linejoin="round"/>
<path d="M2148.3,254.6L2165.1,264.7" fill="none" stroke="#0a0808" stroke-width="4.8" stroke-linecap="round" stroke-linejoin="round"/>
<ellipse cx="2173.3" cy="247.7" rx="13.3" ry="16.2" fill="#fff" stroke="#0a0808" stroke-width="4.4" stroke-linecap="round" stroke-linejoin="round" transform="rotate(-12 2173.3 247.7)"/>
<path d="M2126.7,176L2156.8,172.7L2254.2,228.9L2222.1,233.5Z" fill="#fff" stroke="#0a0808" stroke-width="4" stroke-linecap="round" stroke-linejoin="round"/>
<path d="M2163.8,189.9L2206.3,211.7" fill="none" stroke="#0a0808" stroke-width="6.3" stroke-linecap="round" stroke-linejoin="round"/>
<path d="M2153.3,179.5L2158.6,182.9" fill="none" stroke="#0a0808" stroke-width="3" stroke-linecap="round" stroke-linejoin="round"/>
<circle cx="2212.2" cy="216.6" r="1.9" fill="#0a0808"/>
<path d="M2218.7,220.3L2228.1,225.1" fill="none" stroke="#0a0808" stroke-width="3.7" stroke-linecap="round" stroke-linejoin="round"/>
<path d="M2138.1,178.6L2219.5,225.2" fill="none" stroke="#0a0808" stroke-width="0.9" stroke-linecap="round" stroke-linejoin="round"/>
<text x="2072" y="238.2" font-size="54" font-weight="normal" text-anchor="start" fill="#0a0808" stroke="#0a0808" stroke-width="1.7" stroke-linejoin="round" >A</text>
<text x="2078.5" y="431.7" font-size="54" font-weight="normal" text-anchor="start" fill="#0a0808" stroke="#0a0808" stroke-width="1.7" stroke-linejoin="round" >B</text>
<text x="2076.5" y="603.5" font-size="54" font-weight="normal" text-anchor="start" fill="#0a0808" stroke="#0a0808" stroke-width="1.7" stroke-linejoin="round" >C</text>
<text x="2079" y="756" font-size="54" font-weight="normal" text-anchor="start" fill="#0a0808" stroke="#0a0808" stroke-width="1.7" stroke-linejoin="round" >D</text>
<text x="2083" y="907.2" font-size="54" font-weight="normal" text-anchor="start" fill="#0a0808" stroke="#0a0808" stroke-width="1.7" stroke-linejoin="round" >E</text>
<text x="2334.5" y="240.5" font-size="54" font-weight="normal" text-anchor="start" fill="#0a0808" stroke="#0a0808" stroke-width="1.7" stroke-linejoin="round" >x2</text>
<text x="2336" y="435" font-size="54" font-weight="normal" text-anchor="start" fill="#0a0808" stroke="#0a0808" stroke-width="1.7" stroke-linejoin="round" >x2</text>
<text x="2339" y="609.2" font-size="54" font-weight="normal" text-anchor="start" fill="#0a0808" stroke="#0a0808" stroke-width="1.7" stroke-linejoin="round" >x4</text>
<text x="2336" y="756" font-size="54" font-weight="normal" text-anchor="start" fill="#0a0808" stroke="#0a0808" stroke-width="1.7" stroke-linejoin="round" >x4</text>
<text x="2338" y="902.4" font-size="54.6" font-weight="normal" text-anchor="start" fill="#0a0808" stroke="#0a0808" stroke-width="1.3" stroke-linejoin="round" >x</text>
<path d="M2386.4,863.9L2386.4,896.9L2394,896.9L2394,902.4L2370.8,902.4L2370.8,896.9L2379.1,896.9L2379.1,871.2L2370.8,873.1L2370.8,867.9L2381.7,863.9Z" fill="#0a0808"/>
<path d="M2136.3,387.2L2149.1,381.8L2180.4,402L2178.1,407.7L2153.6,410.8L2138.2,404.5L2134.5,396.3Z" fill="#151515" stroke="#151515" stroke-width="1.5" stroke-linecap="round" stroke-linejoin="round"/>
<path d="M2143.2,386.3C2142.5,388 2139.3,393.1 2139.1,396.3C2138.8,399.5 2141.3,403.9 2141.8,405.4" fill="none" stroke="#777" stroke-width="0.9" stroke-linecap="round" stroke-linejoin="round"/>
<path d="M2148.6,388.9C2147.9,390.5 2144.7,395.6 2144.5,398.6C2144.3,401.6 2146.8,405.6 2147.2,407" fill="none" stroke="#777" stroke-width="0.9" stroke-linecap="round" stroke-linejoin="round"/>
<path d="M2154.1,391.4C2153.4,393 2150.2,398 2150,400.9C2149.7,403.7 2152.2,407.4 2152.7,408.7" fill="none" stroke="#777" stroke-width="0.9" stroke-linecap="round" stroke-linejoin="round"/>
<path d="M2159.5,394C2158.8,395.5 2155.6,400.4 2155.4,403.1C2155.2,405.9 2157.7,409.1 2158.1,410.3" fill="none" stroke="#777" stroke-width="0.9" stroke-linecap="round" stroke-linejoin="round"/>
<path d="M2184.9,383.2C2187.2,380.9 2192,378.8 2195.8,378.6C2199.6,378.5 2204.3,380 2207.6,382.2C2211,384.5 2214.6,388.8 2215.8,392.2C2217,395.7 2215.2,400.3 2214.9,403.1C2214.6,406 2212.5,408.1 2214,409.5C2215.5,410.8 2220.6,409.9 2224,411.3C2227.3,412.7 2231.7,414.9 2234,417.7C2236.2,420.4 2237.6,424.3 2237.6,427.6C2237.6,431 2236.2,435.2 2234,437.6C2231.7,440.1 2227.9,441.4 2224,442.2C2220,442.9 2213.1,441.3 2210.3,442.2C2207.6,443.1 2208.7,445.2 2207.6,447.6C2206.6,450 2205.8,454 2204,456.7C2202.2,459.4 2199.5,462.6 2196.7,464C2194,465.3 2190.4,465.5 2187.6,464.9C2184.9,464.3 2182.4,462.6 2180.4,460.3C2178.4,458.1 2176.8,454.3 2175.8,451.3C2174.9,448.2 2175.4,444.6 2174.9,442.2C2174.5,439.8 2174.9,437.9 2173.1,436.7C2171.3,435.5 2166.9,436.1 2164,434.9C2161.2,433.7 2157.8,432 2155.9,429.5C2153.9,426.9 2152.4,422.7 2152.2,419.5C2152.1,416.3 2153.3,412.8 2155,410.4C2156.6,408 2159.2,406 2162.2,404.9C2165.2,403.9 2170.1,403.7 2173.1,404C2176.1,404.3 2178.7,407.2 2180.4,406.8C2182,406.3 2182.8,403.7 2183.1,401.3C2183.4,398.9 2181.9,395.3 2182.2,392.2C2182.5,389.2 2182.7,385.4 2184.9,383.2Z" fill="#fff" stroke="#1a1a1a" stroke-width="2.4" stroke-linecap="round" stroke-linejoin="round"/>
<path d="M2195.4,387.2C2197.6,385 2202.5,382.9 2206.3,382.7C2210,382.5 2214.7,384.1 2218.1,386.3C2221.4,388.6 2225,392.8 2226.2,396.3C2227.4,399.8 2225.6,404.3 2225.3,407.2C2225,410.1 2222.9,412.2 2224.4,413.6C2225.9,414.9 2231.1,414 2234.4,415.4C2237.7,416.8 2242.1,419 2244.4,421.7C2246.7,424.5 2248,428.4 2248,431.7C2248,435.1 2246.7,439.3 2244.4,441.7C2242.1,444.1 2238.3,445.5 2234.4,446.3C2230.5,447 2223.5,445.4 2220.8,446.3C2218.1,447.2 2219.1,449.3 2218.1,451.7C2217,454.1 2216.2,458.1 2214.4,460.8C2212.6,463.5 2209.9,466.7 2207.2,468.1C2204.4,469.4 2200.8,469.6 2198.1,469C2195.4,468.4 2192.8,466.7 2190.8,464.4C2188.9,462.2 2187.2,458.4 2186.3,455.3C2185.4,452.3 2185.8,448.7 2185.4,446.3C2184.9,443.8 2185.4,442 2183.6,440.8C2181.7,439.6 2177.4,440.2 2174.5,439C2171.6,437.8 2168.3,436.1 2166.3,433.5C2164.3,431 2162.8,426.7 2162.7,423.6C2162.5,420.4 2163.7,416.9 2165.4,414.5C2167.1,412.1 2169.6,410.1 2172.7,409C2175.7,408 2180.5,407.8 2183.6,408.1C2186.6,408.4 2189.2,411.3 2190.8,410.8C2192.5,410.4 2193.2,407.8 2193.5,405.4C2193.9,403 2192.3,399.3 2192.6,396.3C2192.9,393.3 2193.1,389.5 2195.4,387.2Z" fill="#fff" stroke="#1a1a1a" stroke-width="2.4" stroke-linecap="round" stroke-linejoin="round"/>
<rect x="2132.6" y="562.5" width="11.4" height="50.8" fill="#fff" stroke="#0a0808" stroke-width="2.4" stroke-linecap="round"/>
<rect x="2144.4" y="575.5" width="56.4" height="25" fill="#fff" stroke="#0a0808" stroke-width="2.4" stroke-linecap="round"/>
<line x1="2152.7" y1="575.5" x2="2152.7" y2="600.5" fill="none" stroke="#0a0808" stroke-width="2.2" stroke-linejoin="round"/>
<line x1="2164.5" y1="575.5" x2="2164.5" y2="600.5" fill="none" stroke="#0a0808" stroke-width="2.2" stroke-linejoin="round"/>
<line x1="2175.1" y1="575.5" x2="2175.1" y2="600.5" fill="none" stroke="#0a0808" stroke-width="2.2" stroke-linejoin="round"/>
<line x1="2186.9" y1="575.5" x2="2186.9" y2="600.5" fill="none" stroke="#0a0808" stroke-width="2.2" stroke-linejoin="round"/>
<rect x="2132.6" y="714.8" width="11.4" height="50.8" fill="#fff" stroke="#0a0808" stroke-width="2.4" stroke-linecap="round"/>
<rect x="2144.4" y="727.8" width="132.3" height="25" fill="#fff" stroke="#0a0808" stroke-width="2.4" stroke-linecap="round"/>
<line x1="2152.7" y1="727.8" x2="2152.7" y2="752.8" fill="none" stroke="#0a0808" stroke-width="2.2" stroke-linejoin="round"/>
<line x1="2164.5" y1="727.8" x2="2164.5" y2="752.8" fill="none" stroke="#0a0808" stroke-width="2.2" stroke-linejoin="round"/>
<line x1="2175.1" y1="727.8" x2="2175.1" y2="752.8" fill="none" stroke="#0a0808" stroke-width="2.2" stroke-linejoin="round"/>
<line x1="2186.9" y1="727.8" x2="2186.9" y2="752.8" fill="none" stroke="#0a0808" stroke-width="2.2" stroke-linejoin="round"/>
<line x1="2197.5" y1="727.8" x2="2197.5" y2="752.8" fill="none" stroke="#0a0808" stroke-width="2.2" stroke-linejoin="round"/>
<line x1="2208.2" y1="727.8" x2="2208.2" y2="752.8" fill="none" stroke="#0a0808" stroke-width="2.2" stroke-linejoin="round"/>
<line x1="2218.8" y1="727.8" x2="2218.8" y2="752.8" fill="none" stroke="#0a0808" stroke-width="2.2" stroke-linejoin="round"/>
<line x1="2230.6" y1="727.8" x2="2230.6" y2="752.8" fill="none" stroke="#0a0808" stroke-width="2.2" stroke-linejoin="round"/>
<line x1="2241.2" y1="727.8" x2="2241.2" y2="752.8" fill="none" stroke="#0a0808" stroke-width="2.2" stroke-linejoin="round"/>
<line x1="2251.8" y1="727.8" x2="2251.8" y2="752.8" fill="none" stroke="#0a0808" stroke-width="2.2" stroke-linejoin="round"/>
<line x1="2263.6" y1="727.8" x2="2263.6" y2="752.8" fill="none" stroke="#0a0808" stroke-width="2.2" stroke-linejoin="round"/>
<path d="M2152,913.8L2152,887.1Q2152,878.8 2161,878.8L2244.8,878.8L2244.8,863.5L2149.2,863.5Q2136.2,863.5 2136.2,876.5L2136.2,913.8Z" fill="#fff" stroke="#0a0808" stroke-width="2.2" stroke-linecap="round" stroke-linejoin="round"/>
<path d="M2144,913.1L2144,881.2Q2144,871.3 2155.1,871.3L2244.1,871.3" fill="none" stroke="#0a0808" stroke-width="1.6" stroke-linecap="round" stroke-linejoin="round"/>
<path d="M621,1316L621,1879L649.4,1894.7L687,1888.6L687,1302.5" fill="#fff" stroke="#0a0808" stroke-width="3.8" stroke-linecap="round"/>
<path d="M649.4,1310L649.4,1894.7" fill="none" stroke="#0a0808" stroke-width="3.8" stroke-linecap="round" stroke-linejoin="round"/>
<circle cx="635.5" cy="1341.8" r="5.4" fill="#fff" stroke="#0a0808" stroke-width="4" stroke-linecap="round" stroke-linejoin="round"/>
<circle cx="669.7" cy="1342.7" r="5.4" fill="#fff" stroke="#0a0808" stroke-width="4" stroke-linecap="round" stroke-linejoin="round"/>
<path d="M562.3,1282.8L900.4,1228.3A14,20.7 -9.2 0 1 906.4,1269.2L566.5,1324.6" fill="#fff" stroke="#0a0808" stroke-width="3.8" stroke-linecap="round" stroke-linejoin="round"/>
<ellipse cx="562.9" cy="1303.4" rx="12" ry="21.5" fill="#fff" stroke="#0a0808" stroke-width="3.8" stroke-linecap="round" stroke-linejoin="round" transform="rotate(-9.2 562.9 1303.4)"/>
<path d="M484.2,1196.5L561.4,1184.4L552.3,1151.1L632.5,1182.9L579.6,1240.4L565.9,1201.1L488.8,1214.7Z" fill="#0a0808" stroke="#0a0808" stroke-width="1.5" stroke-linecap="round" stroke-linejoin="round"/>
<path d="M911,1114.8L914,1131.5L838.3,1147.2L844.4,1178.4L767.2,1146.6L818.7,1089.1L832.9,1128.4Z" fill="#0a0808" stroke="#0a0808" stroke-width="1.5" stroke-linecap="round" stroke-linejoin="round"/>
<path d="M341.7,1404.6L341.7,1423.5A29.1,13.4 0 0 0 399.9,1423.5L399.9,1404.6" fill="#fff" stroke="#0a0808" stroke-width="6.2" stroke-linecap="round" stroke-linejoin="round"/>
<ellipse cx="370.8" cy="1404.6" rx="29.1" ry="13.4" fill="#fff" stroke="#0a0808" stroke-width="6.2" stroke-linecap="round" stroke-linejoin="round"/>
<path d="M346.4,1415.6A26,11 0 0 0 395.2,1415.6" fill="none" stroke="#0a0808" stroke-width="4" stroke-linecap="round" stroke-linejoin="round"/>
<path d="M363.7,1405.4L363.7,1374.7L377.9,1374.7L377.9,1405.4" fill="#fff" stroke="#0a0808" stroke-width="5.6" stroke-linecap="round" stroke-linejoin="round"/>
<ellipse cx="370.8" cy="1405.8" rx="7.1" ry="2.8" fill="#fff" stroke="#0a0808" stroke-width="4.5" stroke-linecap="round" stroke-linejoin="round"/>
<path d="M369.6,1357.4L369.6,1375.5" fill="none" stroke="#0a0808" stroke-width="12.3" stroke-linejoin="round"/>
<path d="M362.2,1375L379.5,1375" fill="none" stroke="#0a0808" stroke-width="6.7" stroke-linecap="round" stroke-linejoin="round"/>
<path d="M362.2,1251.9L362.2,1347.9L392.1,1366.8L410.2,1373.1L431.4,1375L441.6,1373.1L450.3,1366.8L451.9,1357.4L451.9,1300.7L385,1262.9Z" fill="#fff"/>
<path d="M439.3,1300.7L452.3,1308.6L452.3,1338.5L439.3,1333.7Z" fill="#0a0808" stroke="#0a0808" stroke-width="2.2" stroke-linecap="round" stroke-linejoin="round"/>
<path d="M431.4,1294.4L431.4,1373.1" fill="none" stroke="#0a0808" stroke-width="5.6" stroke-linecap="round" stroke-linejoin="round"/>
<path d="M451.9,1308.6C451.9,1316.7 452.3,1347.6 451.9,1357.4C451.5,1367.1 451.2,1364.5 449.5,1367.1C447.8,1369.7 444.7,1371.8 441.6,1373.1C438.6,1374.4 433.1,1374.7 431.4,1375" fill="none" stroke="#0a0808" stroke-width="6.7" stroke-linecap="round" stroke-linejoin="round"/>
<path d="M438.5,1336.9C439.1,1337.3 441.1,1339.3 442.4,1339.3C443.7,1339.3 445.7,1337.3 446.4,1336.9" fill="none" stroke="#0a0808" stroke-width="3.4" stroke-linecap="round" stroke-linejoin="round"/>
<path d="M363,1349.5L392.1,1366.8L410.2,1373.1L431.4,1375" fill="none" stroke="#0a0808" stroke-width="6.7" stroke-linecap="round" stroke-linejoin="round"/>
<path d="M362.2,1251.9L362.2,1330.6" fill="none" stroke="#0a0808" stroke-width="7.3" stroke-linecap="round" stroke-linejoin="round"/>
<path d="M372.7,1259.8L372.7,1296.3L385,1301L385,1267.6" fill="none" stroke="#0a0808" stroke-width="5" stroke-linecap="round" stroke-linejoin="round"/>
<path d="M371.1,1300.7L381.8,1303.1L383.7,1319.9L371.8,1315.2Z" fill="#fff" stroke="#0a0808" stroke-width="5.6" stroke-linecap="round" stroke-linejoin="round"/>
<path d="M367.7,1324.6L381.8,1331.5" fill="none" stroke="#0a0808" stroke-width="3.9" stroke-linecap="round" stroke-linejoin="round"/>
<path d="M359.5,1339.7L359.5,1353.4L363.3,1355.5" fill="none" stroke="#0a0808" stroke-width="9" stroke-linecap="round" stroke-linejoin="round"/>
<path d="M362.6,1347.6L388.1,1363" fill="none" stroke="#0a0808" stroke-width="7.3" stroke-linecap="round" stroke-linejoin="round"/>
<ellipse cx="400.7" cy="1337.2" rx="20.1" ry="24.6" fill="#fff" stroke="#0a0808" stroke-width="6.7" stroke-linecap="round" stroke-linejoin="round" transform="rotate(-12 400.7 1337.2)"/>
<path d="M329.9,1228.3L375.5,1223.3L523.5,1308.6L474.7,1315.6Z" fill="#fff" stroke="#0a0808" stroke-width="6" stroke-linecap="round" stroke-linejoin="round"/>
<path d="M386.2,1249.4L450.8,1282.4" fill="none" stroke="#0a0808" stroke-width="9.5" stroke-linecap="round" stroke-linejoin="round"/>
<path d="M370.3,1233.7L378.4,1238.8" fill="none" stroke="#0a0808" stroke-width="4.5" stroke-linecap="round" stroke-linejoin="round"/>
<circle cx="459.7" cy="1290" r="2.9" fill="#0a0808"/>
<path d="M469.7,1295.5L483.8,1302.9" fill="none" stroke="#0a0808" stroke-width="5.6" stroke-linecap="round" stroke-linejoin="round"/>
<path d="M347.2,1232.2L470.8,1303.1" fill="none" stroke="#0a0808" stroke-width="1.3" stroke-linecap="round" stroke-linejoin="round"/>
<path d="M410.2,1499.8C407.5,1501.3 400.2,1507.8 394.4,1508.8C388.7,1509.7 381,1508.2 375.5,1505.3C370,1502.4 363.9,1495.8 361.4,1491.1C358.9,1486.4 359,1481.2 360.6,1477C362.2,1472.8 366.2,1468.7 370.8,1465.9C375.4,1463.2 383.1,1461.5 388.1,1460.4C393.1,1459.4 398.6,1459.8 400.7,1459.7" fill="none" stroke="#0a0808" stroke-width="6" stroke-linecap="round" stroke-linejoin="round"/>
<path d="M392.1,1478.9L393.2,1473L407,1458.9L419.6,1445.5L424.6,1447.4L424.6,1478.9Z" fill="#0a0808" stroke="#0a0808" stroke-width="1" stroke-linecap="round" stroke-linejoin="round"/>
<path d="M947,1298.7L947,1317.6A29.1,13.4 0 0 0 1005.2,1317.6L1005.2,1298.7" fill="#fff" stroke="#0a0808" stroke-width="6.2" stroke-linecap="round" stroke-linejoin="round"/>
<ellipse cx="976.1" cy="1298.7" rx="29.1" ry="13.4" fill="#fff" stroke="#0a0808" stroke-width="6.2" stroke-linecap="round" stroke-linejoin="round"/>
<path d="M951.7,1309.7A26,11 0 0 0 1000.5,1309.7" fill="none" stroke="#0a0808" stroke-width="4" stroke-linecap="round" stroke-linejoin="round"/>
<path d="M969,1299.5L969,1268.8L983.2,1268.8L983.2,1299.5" fill="#fff" stroke="#0a0808" stroke-width="5.6" stroke-linecap="round" stroke-linejoin="round"/>
<ellipse cx="976.1" cy="1299.9" rx="7.1" ry="2.8" fill="#fff" stroke="#0a0808" stroke-width="4.5" stroke-linecap="round" stroke-linejoin="round"/>
<path d="M974.9,1251.5L974.9,1269.6" fill="none" stroke="#0a0808" stroke-width="12.3" stroke-linejoin="round"/>
<path d="M967.5,1269.1L984.8,1269.1" fill="none" stroke="#0a0808" stroke-width="6.7" stroke-linecap="round" stroke-linejoin="round"/>
<path d="M967.5,1146L967.5,1242L997.4,1260.9L1015.5,1267.2L1036.7,1269.1L1046.9,1267.2L1055.6,1260.9L1057.2,1251.5L1057.2,1194.8L990.3,1157Z" fill="#fff"/>
<path d="M1044.6,1194.8L1057.6,1202.7L1057.6,1232.6L1044.6,1227.8Z" fill="#0a0808" stroke="#0a0808" stroke-width="2.2" stroke-linecap="round" stroke-linejoin="round"/>
<path d="M1036.7,1188.5L1036.7,1267.2" fill="none" stroke="#0a0808" stroke-width="5.6" stroke-linecap="round" stroke-linejoin="round"/>
<path d="M1057.2,1202.7C1057.2,1210.8 1057.6,1241.7 1057.2,1251.5C1056.8,1261.2 1056.5,1258.6 1054.8,1261.2C1053.1,1263.8 1050,1265.9 1046.9,1267.2C1043.9,1268.5 1038.4,1268.8 1036.7,1269.1" fill="none" stroke="#0a0808" stroke-width="6.7" stroke-linecap="round" stroke-linejoin="round"/>
<path d="M1043.8,1231C1044.4,1231.4 1046.4,1233.4 1047.7,1233.4C1049,1233.4 1051,1231.4 1051.7,1231" fill="none" stroke="#0a0808" stroke-width="3.4" stroke-linecap="round" stroke-linejoin="round"/>
<path d="M968.3,1243.6L997.4,1260.9L1015.5,1267.2L1036.7,1269.1" fill="none" stroke="#0a0808" stroke-width="6.7" stroke-linecap="round" stroke-linejoin="round"/>
<path d="M967.5,1146L967.5,1224.7" fill="none" stroke="#0a0808" stroke-width="7.3" stroke-linecap="round" stroke-linejoin="round"/>
<path d="M978,1153.9L978,1190.4L990.3,1195.1L990.3,1161.7" fill="none" stroke="#0a0808" stroke-width="5" stroke-linecap="round" stroke-linejoin="round"/>
<path d="M976.4,1194.8L987.1,1197.2L989,1214L977.1,1209.3Z" fill="#fff" stroke="#0a0808" stroke-width="5.6" stroke-linecap="round" stroke-linejoin="round"/>
<path d="M973,1218.7L987.1,1225.6" fill="none" stroke="#0a0808" stroke-width="3.9" stroke-linecap="round" stroke-linejoin="round"/>
<path d="M964.8,1233.8L964.8,1247.5L968.6,1249.6" fill="none" stroke="#0a0808" stroke-width="9" stroke-linecap="round" stroke-linejoin="round"/>
<path d="M967.9,1241.7L993.4,1257.1" fill="none" stroke="#0a0808" stroke-width="7.3" stroke-linecap="round" stroke-linejoin="round"/>
<ellipse cx="1006" cy="1231.3" rx="20.1" ry="24.6" fill="#fff" stroke="#0a0808" stroke-width="6.7" stroke-linecap="round" stroke-linejoin="round" transform="rotate(-12 1006 1231.3)"/>
<path d="M935.2,1122.4L980.8,1117.4L1128.8,1202.7L1080,1209.7Z" fill="#fff" stroke="#0a0808" stroke-width="6" stroke-linecap="round" stroke-linejoin="round"/>
<path d="M991.5,1143.5L1056.1,1176.5" fill="none" stroke="#0a0808" stroke-width="9.5" stroke-linecap="round" stroke-linejoin="round"/>
<path d="M975.6,1127.8L983.7,1132.9" fill="none" stroke="#0a0808" stroke-width="4.5" stroke-linecap="round" stroke-linejoin="round"/>
<circle cx="1065" cy="1184.1" r="2.9" fill="#0a0808"/>
<path d="M1075,1189.6L1089.1,1197" fill="none" stroke="#0a0808" stroke-width="5.6" stroke-linecap="round" stroke-linejoin="round"/>
<path d="M952.5,1126.3L1076.1,1197.2" fill="none" stroke="#0a0808" stroke-width="1.3" stroke-linecap="round" stroke-linejoin="round"/>
<path d="M1000.4,1409C997.7,1410.5 990.4,1417 984.6,1418C978.9,1418.9 971.2,1417.4 965.7,1414.5C960.2,1411.6 954.1,1405 951.6,1400.3C949.1,1395.6 949.2,1390.4 950.8,1386.2C952.4,1382 956.4,1377.9 961,1375.1C965.6,1372.4 973.3,1370.7 978.3,1369.6C983.3,1368.6 988.8,1369 990.9,1368.9" fill="none" stroke="#0a0808" stroke-width="6" stroke-linecap="round" stroke-linejoin="round"/>
<path d="M982.3,1388.1L983.4,1382.2L997.2,1368.1L1009.8,1354.7L1014.8,1356.6L1014.8,1388.1Z" fill="#0a0808" stroke="#0a0808" stroke-width="1" stroke-linecap="round" stroke-linejoin="round"/>
<text x="256" y="1337" font-size="76" font-weight="normal" text-anchor="start" fill="#0a0808" stroke="#0a0808" stroke-width="2.4" stroke-linejoin="round" >A</text>
<text x="1126" y="1277" font-size="76" font-weight="normal" text-anchor="start" fill="#0a0808" stroke="#0a0808" stroke-width="2.4" stroke-linejoin="round" >A</text>
<text x="714" y="1659" font-size="88" font-weight="normal" text-anchor="start" fill="#0a0808" stroke="#0a0808" stroke-width="1.6" stroke-linejoin="round" >3</text>
<path d="M1792.2,1480L1792.2,1941L1816.8,1953.6L1848.5,1948.2L1848.5,1455" fill="#fff" stroke="#0a0808" stroke-width="4.6" stroke-linecap="round"/>
<path d="M1816.8,1460L1816.8,1953.6" fill="none" stroke="#0a0808" stroke-width="4.6" stroke-linecap="round" stroke-linejoin="round"/>
<circle cx="1803.7" cy="1487.5" r="4.6" fill="#fff" stroke="#0a0808" stroke-width="2.8" stroke-linecap="round" stroke-linejoin="round"/>
<circle cx="1833.2" cy="1487.5" r="4.6" fill="#fff" stroke="#0a0808" stroke-width="2.8" stroke-linecap="round" stroke-linejoin="round"/>
<path d="M1966.8,1465L1966.8,1480.8A24.3,11.2 0 0 0 2015.4,1480.8L2015.4,1465" fill="#fff" stroke="#0a0808" stroke-width="6" stroke-linecap="round" stroke-linejoin="round"/>
<ellipse cx="1991.1" cy="1465" rx="24.3" ry="11.2" fill="#fff" stroke="#0a0808" stroke-width="6" stroke-linecap="round" stroke-linejoin="round"/>
<path d="M1970.8,1474.2A21.7,9.2 0 0 0 2011.5,1474.2" fill="none" stroke="#0a0808" stroke-width="3.9" stroke-linecap="round" stroke-linejoin="round"/>
<path d="M1985.2,1465.7L1985.2,1440.1L1997,1440.1L1997,1465.7" fill="#fff" stroke="#0a0808" stroke-width="5.4" stroke-linecap="round" stroke-linejoin="round"/>
<ellipse cx="1991.1" cy="1466.1" rx="5.9" ry="2.4" fill="#fff" stroke="#0a0808" stroke-width="4.3" stroke-linecap="round" stroke-linejoin="round"/>
<path d="M1990.1,1425.6L1990.1,1440.7" fill="none" stroke="#0a0808" stroke-width="11.9" stroke-linejoin="round"/>
<path d="M1983.9,1440.3L1998.3,1440.3" fill="none" stroke="#0a0808" stroke-width="6.5" stroke-linecap="round" stroke-linejoin="round"/>
<path d="M1983.9,1337.7L1983.9,1417.8L2008.8,1433.5L2023.9,1438.8L2041.7,1440.3L2050.2,1438.8L2057.4,1433.5L2058.7,1425.6L2058.7,1378.4L2002.9,1346.9Z" fill="#fff"/>
<path d="M2048.2,1378.4L2059.1,1384.9L2059.1,1409.9L2048.2,1405.9Z" fill="#0a0808" stroke="#0a0808" stroke-width="2.2" stroke-linecap="round" stroke-linejoin="round"/>
<path d="M2041.7,1373.1L2041.7,1438.8" fill="none" stroke="#0a0808" stroke-width="5.4" stroke-linecap="round" stroke-linejoin="round"/>
<path d="M2058.7,1384.9C2058.7,1391.7 2059.1,1417.5 2058.7,1425.6C2058.4,1433.8 2058.2,1431.6 2056.8,1433.8C2055.3,1436 2052.7,1437.7 2050.2,1438.8C2047.7,1439.8 2043.1,1440.1 2041.7,1440.3" fill="none" stroke="#0a0808" stroke-width="6.5" stroke-linecap="round" stroke-linejoin="round"/>
<path d="M2047.6,1408.6C2048.1,1408.9 2049.8,1410.5 2050.8,1410.5C2051.9,1410.5 2053.6,1408.9 2054.1,1408.6" fill="none" stroke="#0a0808" stroke-width="3.3" stroke-linecap="round" stroke-linejoin="round"/>
<path d="M1984.6,1419.1L2008.8,1433.5L2023.9,1438.8L2041.7,1440.3" fill="none" stroke="#0a0808" stroke-width="6.5" stroke-linecap="round" stroke-linejoin="round"/>
<path d="M1983.9,1337.7L1983.9,1403.3" fill="none" stroke="#0a0808" stroke-width="7" stroke-linecap="round" stroke-linejoin="round"/>
<path d="M1992.7,1344.3L1992.7,1374.7L2002.9,1378.6L2002.9,1350.8" fill="none" stroke="#0a0808" stroke-width="4.9" stroke-linecap="round" stroke-linejoin="round"/>
<path d="M1991.4,1378.4L2000.3,1380.3L2001.9,1394.4L1991.9,1390.5Z" fill="#fff" stroke="#0a0808" stroke-width="5.4" stroke-linecap="round" stroke-linejoin="round"/>
<path d="M1988.5,1398.3L2000.3,1404.1" fill="none" stroke="#0a0808" stroke-width="3.8" stroke-linecap="round" stroke-linejoin="round"/>
<path d="M1981.7,1410.9L1981.7,1422.3L1984.8,1424.1" fill="none" stroke="#0a0808" stroke-width="8.7" stroke-linecap="round" stroke-linejoin="round"/>
<path d="M1984.3,1417.5L2005.6,1430.4" fill="none" stroke="#0a0808" stroke-width="7" stroke-linecap="round" stroke-linejoin="round"/>
<path d="M1957,1318L1995.1,1313.8L2118.4,1384.9L2077.8,1390.8Z" fill="#fff" stroke="#0a0808" stroke-width="5.9" stroke-linecap="round" stroke-linejoin="round"/>
<path d="M2004,1335.6L2057.8,1363.2" fill="none" stroke="#0a0808" stroke-width="9.2" stroke-linecap="round" stroke-linejoin="round"/>
<path d="M1990.7,1322.5L1997.4,1326.8" fill="none" stroke="#0a0808" stroke-width="4.3" stroke-linecap="round" stroke-linejoin="round"/>
<circle cx="2065.3" cy="1369.5" r="2.8" fill="#0a0808"/>
<path d="M2073.6,1374L2085.4,1380.2" fill="none" stroke="#0a0808" stroke-width="5.4" stroke-linecap="round" stroke-linejoin="round"/>
<path d="M1971.4,1321.3L2074.5,1380.3" fill="none" stroke="#0a0808" stroke-width="1.3" stroke-linecap="round" stroke-linejoin="round"/>
<path d="M1785.8,1434.9L2023.1,1389.2A12,18.1 -10.9 0 1 2027.1,1425.1L1785.8,1466.4Z" fill="#fff"/>
<path d="M1843.4,1420L2023.1,1389.2A12,18.1 -10.9 0 1 2027.1,1425.1L1799.3,1463.7" fill="none" stroke="#0a0808" stroke-width="4.2" stroke-linecap="round" stroke-linejoin="round"/>
<path d="M1702.3,1509L1702.3,1524.8A24.3,11.2 0 0 0 1750.9,1524.8L1750.9,1509" fill="#fff" stroke="#0a0808" stroke-width="6" stroke-linecap="round" stroke-linejoin="round"/>
<ellipse cx="1726.6" cy="1509" rx="24.3" ry="11.2" fill="#fff" stroke="#0a0808" stroke-width="6" stroke-linecap="round" stroke-linejoin="round"/>
<path d="M1706.3,1518.2A21.7,9.2 0 0 0 1747,1518.2" fill="none" stroke="#0a0808" stroke-width="3.9" stroke-linecap="round" stroke-linejoin="round"/>
<path d="M1720.7,1509.7L1720.7,1484.1L1732.5,1484.1L1732.5,1509.7" fill="#fff" stroke="#0a0808" stroke-width="5.4" stroke-linecap="round" stroke-linejoin="round"/>
<ellipse cx="1726.6" cy="1510.1" rx="5.9" ry="2.4" fill="#fff" stroke="#0a0808" stroke-width="4.3" stroke-linecap="round" stroke-linejoin="round"/>
<path d="M1725.6,1469.6L1725.6,1484.7" fill="none" stroke="#0a0808" stroke-width="11.9" stroke-linejoin="round"/>
<path d="M1719.4,1484.3L1733.8,1484.3" fill="none" stroke="#0a0808" stroke-width="6.5" stroke-linecap="round" stroke-linejoin="round"/>
<path d="M1719.4,1381.7L1719.4,1461.8L1744.3,1477.5L1759.4,1482.8L1777.2,1484.3L1785.7,1482.8L1792.9,1477.5L1794.2,1469.6L1794.2,1422.4L1738.4,1390.9Z" fill="#fff"/>
<path d="M1783.7,1422.4L1794.6,1428.9L1794.6,1453.9L1783.7,1449.9Z" fill="#0a0808" stroke="#0a0808" stroke-width="2.2" stroke-linecap="round" stroke-linejoin="round"/>
<path d="M1777.2,1417.1L1777.2,1482.8" fill="none" stroke="#0a0808" stroke-width="5.4" stroke-linecap="round" stroke-linejoin="round"/>
<path d="M1794.2,1428.9C1794.2,1435.7 1794.6,1461.5 1794.2,1469.6C1793.9,1477.8 1793.7,1475.6 1792.3,1477.8C1790.8,1480 1788.2,1481.7 1785.7,1482.8C1783.2,1483.8 1778.6,1484.1 1777.2,1484.3" fill="none" stroke="#0a0808" stroke-width="6.5" stroke-linecap="round" stroke-linejoin="round"/>
<path d="M1783.1,1452.6C1783.6,1452.9 1785.3,1454.5 1786.3,1454.5C1787.4,1454.5 1789.1,1452.9 1789.6,1452.6" fill="none" stroke="#0a0808" stroke-width="3.3" stroke-linecap="round" stroke-linejoin="round"/>
<path d="M1720.1,1463.1L1744.3,1477.5L1759.4,1482.8L1777.2,1484.3" fill="none" stroke="#0a0808" stroke-width="6.5" stroke-linecap="round" stroke-linejoin="round"/>
<path d="M1719.4,1381.7L1719.4,1447.3" fill="none" stroke="#0a0808" stroke-width="7" stroke-linecap="round" stroke-linejoin="round"/>
<path d="M1728.2,1388.3L1728.2,1418.7L1738.4,1422.6L1738.4,1394.8" fill="none" stroke="#0a0808" stroke-width="4.9" stroke-linecap="round" stroke-linejoin="round"/>
<path d="M1726.9,1422.4L1735.8,1424.3L1737.4,1438.4L1727.4,1434.5Z" fill="#fff" stroke="#0a0808" stroke-width="5.4" stroke-linecap="round" stroke-linejoin="round"/>
<path d="M1724,1442.3L1735.8,1448.1" fill="none" stroke="#0a0808" stroke-width="3.8" stroke-linecap="round" stroke-linejoin="round"/>
<path d="M1717.2,1454.9L1717.2,1466.3L1720.3,1468.1" fill="none" stroke="#0a0808" stroke-width="8.7" stroke-linecap="round" stroke-linejoin="round"/>
<path d="M1719.8,1461.5L1741.1,1474.4" fill="none" stroke="#0a0808" stroke-width="7" stroke-linecap="round" stroke-linejoin="round"/>
<ellipse cx="1751.6" cy="1452.8" rx="16.8" ry="20.5" fill="#fff" stroke="#0a0808" stroke-width="6.5" stroke-linecap="round" stroke-linejoin="round" transform="rotate(-12 1751.6 1452.8)"/>
<path d="M1692.5,1362L1730.6,1357.8L1853.9,1428.9L1813.3,1434.8Z" fill="#fff" stroke="#0a0808" stroke-width="5.9" stroke-linecap="round" stroke-linejoin="round"/>
<path d="M1739.5,1379.6L1793.3,1407.2" fill="none" stroke="#0a0808" stroke-width="9.2" stroke-linecap="round" stroke-linejoin="round"/>
<path d="M1726.2,1366.5L1732.9,1370.8" fill="none" stroke="#0a0808" stroke-width="4.3" stroke-linecap="round" stroke-linejoin="round"/>
<circle cx="1800.8" cy="1413.5" r="2.8" fill="#0a0808"/>
<path d="M1809.1,1418L1820.9,1424.2" fill="none" stroke="#0a0808" stroke-width="5.4" stroke-linecap="round" stroke-linejoin="round"/>
<path d="M1706.9,1365.3L1810,1424.3" fill="none" stroke="#0a0808" stroke-width="1.3" stroke-linecap="round" stroke-linejoin="round"/>
<ellipse cx="1758.1" cy="1452.8" rx="10.5" ry="16.8" fill="none" stroke="#0a0808" stroke-width="4.2" stroke-linecap="round" stroke-linejoin="round" transform="rotate(-8 1758.1 1452.8)"/>
<path d="M1566.8,1117.7C1566.8,1122 1565.4,1135.6 1566.8,1143.6C1568.2,1151.5 1570.3,1157.8 1575,1165.4C1579.6,1172.9 1586.2,1180.8 1595,1189C1603.7,1197.2 1615.5,1206.2 1627.6,1214.4C1639.8,1222.6 1652.4,1230.4 1667.6,1238C1682.7,1245.5 1702.4,1254.5 1718.4,1259.8C1734.5,1265.1 1750.2,1267.8 1763.8,1269.8C1777.4,1271.8 1785,1272.5 1800.2,1271.6C1815.3,1270.7 1845.5,1265.5 1854.6,1264.3L2213.4,1205.3C2215.9,1203.8 2225.4,1200.1 2228.7,1196.1C2232,1192.2 2232.5,1186.8 2233.3,1181.6C2234,1176.3 2233,1167.6 2233,1164.7Z" fill="#fff"/>
<path d="M1976.3,1025.4C1981.1,1024.7 1994.6,1020.6 2005.5,1020.9C2016.4,1021.2 2028.1,1023.5 2041.7,1027.2C2055.2,1031 2071.9,1036.9 2087,1043.6C2102.1,1050.2 2117.1,1058 2132.3,1067.1C2147.5,1076.2 2165,1088.1 2178.1,1098.1C2191.1,1108.1 2202.4,1118.6 2210.5,1127.1C2218.7,1135.6 2223.3,1142.8 2226.9,1148.9C2230.5,1154.9 2231.7,1159.2 2232.3,1163.4C2232.9,1167.7 2233,1171.2 2230.6,1174.3C2228.1,1177.5 2219.9,1181.1 2217.8,1182.5L1854.6,1241.6C1848.5,1242.5 1828.9,1246 1818.3,1247.1C1807.7,1248.1 1802.2,1248.9 1791,1248C1779.9,1247.1 1766.9,1245.4 1751.1,1241.6C1735.4,1237.8 1714.8,1232.3 1696.6,1225.3C1678.5,1218.3 1657.3,1208.3 1642.2,1199.8C1627,1191.4 1615.8,1182.6 1605.9,1174.4C1595.9,1166.3 1587.8,1158.4 1582.2,1150.8C1576.6,1143.2 1573.9,1135.1 1572.3,1129C1570.6,1123 1570,1119.9 1572.3,1114.5C1574.5,1109.1 1579.6,1101.2 1585.9,1096.4C1592.1,1091.5 1597.7,1088.2 1609.5,1085.5C1621.3,1082.7 1648.8,1080.9 1656.7,1080L1679.5,1076.3" fill="#fff" stroke="#0a0808" stroke-width="4.4" stroke-linecap="round" stroke-linejoin="round"/>
<path d="M1566.8,1117.7C1566.8,1122 1565.4,1135.6 1566.8,1143.6C1568.2,1151.5 1570.3,1157.8 1575,1165.4C1579.6,1172.9 1586.2,1180.8 1595,1189C1603.7,1197.2 1615.5,1206.2 1627.6,1214.4C1639.8,1222.6 1652.4,1230.4 1667.6,1238C1682.7,1245.5 1702.4,1254.5 1718.4,1259.8C1734.5,1265.1 1750.2,1267.8 1763.8,1269.8C1777.4,1271.8 1785,1272.5 1800.2,1271.6C1815.3,1270.7 1845.5,1265.5 1854.6,1264.3L2213.4,1205.3C2215.9,1203.8 2225.4,1200.1 2228.7,1196.1C2232,1192.2 2232.5,1186.8 2233.3,1181.6C2234,1176.3 2233,1167.6 2233,1164.7" fill="none" stroke="#0a0808" stroke-width="4.4" stroke-linecap="round" stroke-linejoin="round"/>
<path d="M1697.2,1062.9L1958.3,1019.7L2007.5,1039.8L2007.5,1045.7L1683.3,1098.6L1669.8,1083.6Z" fill="#fff" stroke="#0a0808" stroke-width="4" stroke-linecap="round" stroke-linejoin="round"/>
<path d="M1708.5,1071.6L1960.5,1028.5" fill="none" stroke="#0a0808" stroke-width="3.4" stroke-linecap="round" stroke-linejoin="round"/>
<path d="M1683.3,1098.6C1685.2,1097.2 1691.4,1093.1 1695,1089.9C1698.7,1086.7 1702.8,1082.5 1705.1,1079.5C1707.3,1076.4 1708,1072.9 1708.5,1071.6" fill="none" stroke="#0a0808" stroke-width="3.4" stroke-linecap="round" stroke-linejoin="round"/>
<path d="M1697.2,1062.9C1695.4,1064.9 1690.9,1071.6 1686.3,1075.1C1681.7,1078.5 1672.5,1082.2 1669.8,1083.6" fill="none" stroke="#0a0808" stroke-width="3.4" stroke-linecap="round" stroke-linejoin="round"/>
<path d="M1708.5,1071.6L1697.2,1062.9" fill="none" stroke="#0a0808" stroke-width="3.4" stroke-linecap="round" stroke-linejoin="round"/>
<path d="M1958.3,1019.7L2007.5,1039.8" fill="none" stroke="#0a0808" stroke-width="5.9" stroke-linecap="round" stroke-linejoin="round"/>
<path d="M1960.5,1028.5L1997.9,1041.1" fill="none" stroke="#0a0808" stroke-width="3.2" stroke-linecap="round" stroke-linejoin="round"/>
<path d="M1837.2,1201.9L2098.3,1158.7L2147.6,1178.8L2147.6,1184.7L1823.3,1237.6L1809.8,1222.6Z" fill="#fff" stroke="#0a0808" stroke-width="4" stroke-linecap="round" stroke-linejoin="round"/>
<path d="M1848.6,1210.6L2100.5,1167.5" fill="none" stroke="#0a0808" stroke-width="3.4" stroke-linecap="round" stroke-linejoin="round"/>
<path d="M1823.3,1237.6C1825.3,1236.2 1831.4,1232.1 1835.1,1228.9C1838.7,1225.7 1842.8,1221.5 1845.1,1218.4C1847.3,1215.4 1848,1211.9 1848.6,1210.6" fill="none" stroke="#0a0808" stroke-width="3.4" stroke-linecap="round" stroke-linejoin="round"/>
<path d="M1837.2,1201.9C1835.4,1203.9 1830.9,1210.6 1826.3,1214.1C1821.8,1217.5 1812.5,1221.2 1809.8,1222.6" fill="none" stroke="#0a0808" stroke-width="3.4" stroke-linecap="round" stroke-linejoin="round"/>
<path d="M1848.6,1210.6L1837.2,1201.9" fill="none" stroke="#0a0808" stroke-width="3.4" stroke-linecap="round" stroke-linejoin="round"/>
<path d="M2098.3,1158.7L2147.6,1178.8" fill="none" stroke="#0a0808" stroke-width="5.9" stroke-linecap="round" stroke-linejoin="round"/>
<path d="M2100.5,1167.5L2138,1180.1" fill="none" stroke="#0a0808" stroke-width="3.2" stroke-linecap="round" stroke-linejoin="round"/>
<path d="M1885.7,1111L1885.7,1156.8L1897.5,1156.8L1897.5,1161.5L1866.5,1161.5L1866.5,1156.8L1879.3,1156.8L1879.3,1120.6L1866.5,1123.1L1866.5,1118.6L1881.6,1111Z" fill="#0a0808"/>
<line x1="1716.3" y1="1262" x2="1716.3" y2="1567" fill="none" stroke="#0a0808" stroke-width="5.6" stroke-linejoin="round" stroke-dasharray="30 10"/>
<line x1="1810.3" y1="1273" x2="1810.3" y2="1583" fill="none" stroke="#0a0808" stroke-width="6" stroke-linejoin="round" stroke-dasharray="30 10"/>
<line x1="1987.5" y1="1246" x2="1987.5" y2="1316" fill="none" stroke="#0a0808" stroke-width="5.6" stroke-linejoin="round" stroke-dasharray="30 10"/>
<line x1="1987.5" y1="1492" x2="1987.5" y2="1510" fill="none" stroke="#0a0808" stroke-width="5.6" stroke-linejoin="round" stroke-dasharray="28 9"/>
<line x1="2081.7" y1="1232" x2="2081.7" y2="1523" fill="none" stroke="#0a0808" stroke-width="5.6" stroke-linejoin="round" stroke-dasharray="30 10"/>
<rect x="1705.6" y="1567.7" width="23.4" height="53.3" fill="#0a0808"/>
<rect x="1710.7" y="1572.3" width="13.1" height="5.4" fill="#fff"/>
<rect x="1710.7" y="1582.2" width="13.1" height="5.4" fill="#fff"/>
<rect x="1710.7" y="1592" width="13.1" height="5.4" fill="#fff"/>
<rect x="1710.7" y="1601.8" width="13.1" height="5.4" fill="#fff"/>
<rect x="1710.7" y="1611.7" width="13.1" height="5.4" fill="#fff"/>
<rect x="1695.3" y="1620" width="41.4" height="16.4" fill="#0a0808"/>
<rect x="1701.1" y="1624.5" width="29.7" height="7.4" fill="#fff"/>
<rect x="1799.3" y="1582.4" width="23.4" height="53.3" fill="#0a0808"/>
<rect x="1804.4" y="1587" width="13.1" height="5.4" fill="#fff"/>
<rect x="1804.4" y="1596.9" width="13.1" height="5.4" fill="#fff"/>
<rect x="1804.4" y="1606.7" width="13.1" height="5.4" fill="#fff"/>
<rect x="1804.4" y="1616.5" width="13.1" height="5.4" fill="#fff"/>
<rect x="1804.4" y="1626.4" width="13.1" height="5.4" fill="#fff"/>
<rect x="1790.5" y="1634.7" width="40.4" height="15.8" fill="#0a0808"/>
<rect x="1796.3" y="1639.1" width="28.9" height="7" fill="#fff"/>
<rect x="1977.3" y="1509.5" width="23" height="51.8" fill="#0a0808"/>
<rect x="1982.4" y="1514.1" width="12.9" height="5.3" fill="#fff"/>
<rect x="1982.4" y="1523.6" width="12.9" height="5.3" fill="#fff"/>
<rect x="1982.4" y="1533.2" width="12.9" height="5.3" fill="#fff"/>
<rect x="1982.4" y="1542.7" width="12.9" height="5.3" fill="#fff"/>
<rect x="1982.4" y="1552.3" width="12.9" height="5.3" fill="#fff"/>
<rect x="1967" y="1560.3" width="40.8" height="16.3" fill="#0a0808"/>
<rect x="1972.8" y="1564.8" width="29.1" height="7.3" fill="#fff"/>
<rect x="2070.5" y="1523" width="23" height="53.6" fill="#0a0808"/>
<rect x="2075.6" y="1527.6" width="12.9" height="5.5" fill="#fff"/>
<rect x="2075.6" y="1537.5" width="12.9" height="5.5" fill="#fff"/>
<rect x="2075.6" y="1547.4" width="12.9" height="5.5" fill="#fff"/>
<rect x="2075.6" y="1557.3" width="12.9" height="5.5" fill="#fff"/>
<rect x="2075.6" y="1567.2" width="12.9" height="5.5" fill="#fff"/>
<rect x="2060.3" y="1575.6" width="40.7" height="15.4" fill="#0a0808"/>
<rect x="2065.9" y="1579.9" width="29.5" height="6.8" fill="#fff"/>
<text x="1696" y="1702.5" font-size="68" font-weight="normal" text-anchor="start" fill="#0a0808" stroke="#0a0808" stroke-width="1.4" stroke-linejoin="round" >C</text>
<text x="2060" y="1658" font-size="68" font-weight="normal" text-anchor="start" fill="#0a0808" stroke="#0a0808" stroke-width="1.4" stroke-linejoin="round" >C</text>
<circle cx="2243.6" cy="1843.8" r="138" fill="none" stroke="#0a0808" stroke-width="2.2" stroke-linecap="round" stroke-linejoin="round"/>
<path d="M2237.9,1751L2358,1821.8L2350.6,1833.2L2236.2,1765.7Z" fill="#fff" stroke="#0a0808" stroke-width="2" stroke-linecap="round" stroke-linejoin="round"/>
<path d="M2239.8,1756.4L2354.7,1825" fill="none" stroke="#0a0808" stroke-width="1.4" stroke-linecap="round" stroke-linejoin="round"/>
<ellipse cx="2354.4" cy="1827.5" rx="8.4" ry="7.1" fill="#fff" stroke="#0a0808" stroke-width="2" stroke-linecap="round" stroke-linejoin="round" transform="rotate(30 2354.4 1827.5)"/>
<path d="M2224,1762.9L2224,1796.4Q2230.5,1802.1 2237.9,1796.4L2237.9,1765.4" fill="#fff" stroke="#0a0808" stroke-width="2" stroke-linecap="round" stroke-linejoin="round"/>
<path d="M2233.9,1767L2233.9,1797.7" fill="none" stroke="#0a0808" stroke-width="1.4" stroke-linecap="round" stroke-linejoin="round"/>
<path d="M2224,1764.1C2224.2,1762.8 2223.8,1758.7 2225.6,1756.4C2227.4,1754.1 2231.5,1750.6 2234.6,1750.3C2237.7,1750.1 2242.8,1754 2244.4,1754.8" fill="#fff" stroke="#0a0808" stroke-width="2" stroke-linecap="round" stroke-linejoin="round"/>
<ellipse cx="2230.5" cy="1765.4" rx="4.9" ry="3.3" fill="#fff" stroke="#0a0808" stroke-width="1.6" stroke-linecap="round" stroke-linejoin="round"/>
<line x1="2318.8" y1="1712.3" x2="2282" y2="1775.2" fill="none" stroke="#0a0808" stroke-width="1.8" stroke-linecap="round" stroke-linejoin="round"/>
<text x="2320" y="1700.5" font-size="54" font-weight="normal" text-anchor="start" fill="#0a0808" stroke="#0a0808" stroke-width="2.2" stroke-linejoin="round" textLength="30" lengthAdjust="spacingAndGlyphs">E</text>
<text x="2157" y="1857" font-size="66" font-weight="normal" text-anchor="start" fill="#0a0808" stroke="#0a0808" stroke-width="1.4" stroke-linejoin="round" >C</text>
<rect x="2224.8" y="1815.2" width="22.9" height="52.5" fill="#0a0808"/>
<rect x="2229.8" y="1819.7" width="12.8" height="5.3" fill="#fff"/>
<rect x="2229.8" y="1829.4" width="12.8" height="5.3" fill="#fff"/>
<rect x="2229.8" y="1839.1" width="12.8" height="5.3" fill="#fff"/>
<rect x="2229.8" y="1848.8" width="12.8" height="5.3" fill="#fff"/>
<rect x="2229.8" y="1858.5" width="12.8" height="5.3" fill="#fff"/>
<rect x="2214.2" y="1866.7" width="41.6" height="15.5" fill="#0a0808"/>
<rect x="2219.8" y="1871" width="30.3" height="6.8" fill="#fff"/>
<path d="M2299.2,1865.9C2297.9,1868.1 2294.9,1874.9 2291.8,1879C2288.7,1883.1 2284.7,1887 2280.4,1890.4C2276,1893.8 2270.6,1896.9 2265.7,1899.4C2260.8,1901.8 2256.1,1903.8 2250.9,1905.1C2245.8,1906.5 2240,1907.4 2234.6,1907.6C2229.2,1907.8 2223.7,1907.4 2218.3,1906.3C2212.8,1905.1 2204.6,1901.6 2201.9,1900.7" fill="none" stroke="#0a0808" stroke-width="4.6" stroke-linejoin="round"/>
<path d="M2167.6,1877.3L2218.3,1891.2L2202.7,1899.7L2192.9,1922.3Z" fill="#0a0808" stroke="#0a0808" stroke-width="0.8" stroke-linecap="round" stroke-linejoin="round"/>
<line x1="2235.4" y1="1888.8" x2="2235.4" y2="1936" fill="none" stroke="#0a0808" stroke-width="1.4" stroke-linejoin="round" stroke-dasharray="9 3"/>
<ellipse cx="2235.4" cy="1941.9" rx="10" ry="5.8" fill="#fff" stroke="#0a0808" stroke-width="2.2" stroke-linecap="round" stroke-linejoin="round"/>
<ellipse cx="2235.4" cy="1942.9" rx="5" ry="2.5" fill="none" stroke="#0a0808" stroke-width="1.5" stroke-linecap="round" stroke-linejoin="round"/>
<path d="M263.4,2947.3L261.9,2962.9L513.3,3259.6L577.3,3223.2L577.3,3207.6L325.9,2918.6Z" fill="#fff" stroke="#0a0808" stroke-width="2.6" stroke-linecap="round" stroke-linejoin="round"/>
<path d="M263.4,2947.3L325.9,2918.6L577.3,3207.6L514.9,3241.4Z" fill="#fff" stroke="#0a0808" stroke-width="2.6" stroke-linecap="round" stroke-linejoin="round"/>
<path d="M514.9,3241.4L513.3,3259.6" fill="none" stroke="#0a0808" stroke-width="2.6" stroke-linecap="round" stroke-linejoin="round"/>
<path d="M704.9,2767.7L705.9,2785.9L974,3016L1025,2974.9L1023.5,2959.3L755.4,2735.4Z" fill="#fff" stroke="#0a0808" stroke-width="2.6" stroke-linecap="round" stroke-linejoin="round"/>
<path d="M704.9,2767.7L755.4,2735.4L1023.5,2959.3L974,2999.3Z" fill="#fff" stroke="#0a0808" stroke-width="2.6" stroke-linecap="round" stroke-linejoin="round"/>
<path d="M974,2999.3L974,3016" fill="none" stroke="#0a0808" stroke-width="2.6" stroke-linecap="round" stroke-linejoin="round"/>
<path d="M418.6,3022.8L787.7,2851.5" fill="none" stroke="#0a0808" stroke-width="2.6" stroke-linecap="round" stroke-linejoin="round"/>
<path d="M469.1,3074.8L839.7,2898.3" fill="none" stroke="#0a0808" stroke-width="2.6" stroke-linecap="round" stroke-linejoin="round"/>
<path d="M474.3,3087.8L846.5,2909.3" fill="none" stroke="#0a0808" stroke-width="2.6" stroke-linecap="round" stroke-linejoin="round"/>
<text x="721" y="3060" font-size="77" font-weight="bold" text-anchor="start" fill="#0a0808" >2</text>
<path d="M398.9,2758L499.6,2742.2L572,2783.9L471.3,2799.7Z" fill="#fff" stroke="#0a0808" stroke-width="5.6" stroke-linecap="round"/>
<path d="M451.3,2209.6L451.3,2765L478.8,2780.8L515,2774.5L515,2207.2L480.4,2190.7Z" fill="#fff" stroke="#0a0808" stroke-width="5.8" stroke-linecap="round"/>
<path d="M450.5,2209.6L480.4,2190.7L515,2207.2L482,2226.1Z" fill="#fff" stroke="#0a0808" stroke-width="5.8" stroke-linecap="round" stroke-linejoin="round"/>
<path d="M478.8,2226.1L478.8,2780.8" fill="none" stroke="#0a0808" stroke-width="5.8" stroke-linecap="round" stroke-linejoin="round"/>
<circle cx="465.4" cy="2247.3" r="5.3" fill="#fff" stroke="#0a0808" stroke-width="4.6" stroke-linecap="round" stroke-linejoin="round"/>
<circle cx="497.7" cy="2248.1" r="5.3" fill="#fff" stroke="#0a0808" stroke-width="4.6" stroke-linecap="round" stroke-linejoin="round"/>
<rect x="516" y="2574" width="7" height="17" fill="#0a0808"/>
<line x1="435.4" y1="2692" x2="435.4" y2="3012" fill="none" stroke="#0a0808" stroke-width="6.2" stroke-linejoin="round" stroke-dasharray="31 11"/>
<line x1="474.2" y1="2718" x2="474.2" y2="3038" fill="none" stroke="#0a0808" stroke-width="6.2" stroke-linejoin="round" stroke-dasharray="31 11"/>
<line x1="501.5" y1="2800" x2="501.5" y2="3006" fill="none" stroke="#0a0808" stroke-width="6.2" stroke-linejoin="round" stroke-dasharray="31 11"/>
<line x1="540.2" y1="2718" x2="540.2" y2="3029" fill="none" stroke="#0a0808" stroke-width="6.2" stroke-linejoin="round" stroke-dasharray="31 11"/>
<ellipse cx="437" cy="3015" rx="6" ry="4" fill="#0a0808"/>
<ellipse cx="477.5" cy="3041.7" rx="6" ry="4" fill="#0a0808"/>
<ellipse cx="501.5" cy="3008.7" rx="6" ry="4" fill="#0a0808"/>
<ellipse cx="543.5" cy="3032.3" rx="6" ry="4" fill="#0a0808"/>
<ellipse cx="435.4" cy="2762" rx="6.5" ry="3.6" fill="#0a0808"/>
<ellipse cx="474.2" cy="2790" rx="6.5" ry="3.6" fill="#0a0808"/>
<ellipse cx="540.2" cy="2779" rx="6.5" ry="3.6" fill="#0a0808"/>
<rect x="421.2" y="2595" width="25.7" height="96.9" fill="#0a0808"/>
<rect x="427.4" y="2596" width="13.3" height="6.5" fill="#fff"/>
<rect x="427.4" y="2607.7" width="13.3" height="6.5" fill="#fff"/>
<rect x="427.4" y="2619.5" width="13.3" height="6.5" fill="#fff"/>
<rect x="427.4" y="2631.2" width="13.3" height="6.5" fill="#fff"/>
<rect x="427.4" y="2642.9" width="13.3" height="6.5" fill="#fff"/>
<rect x="427.4" y="2654.7" width="13.3" height="6.5" fill="#fff"/>
<rect x="427.4" y="2666.4" width="13.3" height="6.5" fill="#fff"/>
<rect x="427.4" y="2678.2" width="13.3" height="6.5" fill="#fff"/>
<rect x="412.3" y="2576.5" width="46.4" height="18.5" fill="#0a0808"/>
<rect x="416.8" y="2582" width="37.4" height="7.5" fill="#fff"/>
<rect x="460" y="2622.6" width="26.2" height="95.2" fill="#0a0808"/>
<rect x="466.2" y="2623.6" width="13.8" height="6.3" fill="#fff"/>
<rect x="466.2" y="2635.1" width="13.8" height="6.3" fill="#fff"/>
<rect x="466.2" y="2646.7" width="13.8" height="6.3" fill="#fff"/>
<rect x="466.2" y="2658.2" width="13.8" height="6.3" fill="#fff"/>
<rect x="466.2" y="2669.7" width="13.8" height="6.3" fill="#fff"/>
<rect x="466.2" y="2681.2" width="13.8" height="6.3" fill="#fff"/>
<rect x="466.2" y="2692.8" width="13.8" height="6.3" fill="#fff"/>
<rect x="466.2" y="2704.3" width="13.8" height="6.3" fill="#fff"/>
<rect x="453.2" y="2604.5" width="44" height="18.1" fill="#0a0808"/>
<rect x="457.7" y="2610" width="35" height="7.1" fill="#fff"/>
<rect x="525.6" y="2620.3" width="26.7" height="97.5" fill="#0a0808"/>
<rect x="531.8" y="2621.3" width="14.3" height="6.5" fill="#fff"/>
<rect x="531.8" y="2633.1" width="14.3" height="6.5" fill="#fff"/>
<rect x="531.8" y="2644.9" width="14.3" height="6.5" fill="#fff"/>
<rect x="531.8" y="2656.7" width="14.3" height="6.5" fill="#fff"/>
<rect x="531.8" y="2668.6" width="14.3" height="6.5" fill="#fff"/>
<rect x="531.8" y="2680.4" width="14.3" height="6.5" fill="#fff"/>
<rect x="531.8" y="2692.2" width="14.3" height="6.5" fill="#fff"/>
<rect x="531.8" y="2704" width="14.3" height="6.5" fill="#fff"/>
<rect x="518.5" y="2602.6" width="44.8" height="17.7" fill="#0a0808"/>
<rect x="523" y="2608.1" width="35.8" height="6.7" fill="#fff"/>
<text x="579.5" y="2629.7" font-size="57" font-weight="normal" text-anchor="start" fill="#0a0808" stroke="#0a0808" stroke-width="2.2" stroke-linejoin="round" textLength="36" lengthAdjust="spacingAndGlyphs">D</text>
<text x="384" y="2433.8" font-size="73" font-weight="bold" text-anchor="start" fill="#0a0808" stroke="#0a0808" stroke-width="1.6" stroke-linejoin="round" >4</text>
<circle cx="931.5" cy="2629.5" r="157" fill="none" stroke="#0a0808" stroke-width="2.4" stroke-linecap="round" stroke-linejoin="round"/>
<path d="M928.2,2479.4L1054.9,2554.1L1047.1,2566.1L926.4,2494.9Z" fill="#fff" stroke="#0a0808" stroke-width="2.6" stroke-linecap="round" stroke-linejoin="round"/>
<path d="M930.2,2485.1L1051.4,2557.5" fill="none" stroke="#0a0808" stroke-width="1.8" stroke-linecap="round" stroke-linejoin="round"/>
<ellipse cx="1051.1" cy="2560.1" rx="10.9" ry="9.2" fill="#fff" stroke="#0a0808" stroke-width="2.6" stroke-linecap="round" stroke-linejoin="round" transform="rotate(30 1051.1 2560.1)"/>
<path d="M913.5,2492L913.5,2527.3Q920.4,2533.4 928.2,2527.3L928.2,2494.6" fill="#fff" stroke="#0a0808" stroke-width="2.6" stroke-linecap="round" stroke-linejoin="round"/>
<path d="M924,2496.3L924,2528.7" fill="none" stroke="#0a0808" stroke-width="1.8" stroke-linecap="round" stroke-linejoin="round"/>
<path d="M913.5,2493.2C913.8,2491.9 913.4,2487.5 915.2,2485.1C917.1,2482.7 921.4,2479 924.7,2478.7C928,2478.4 933.3,2482.6 935.1,2483.4" fill="#fff" stroke="#0a0808" stroke-width="2.6" stroke-linecap="round" stroke-linejoin="round"/>
<ellipse cx="920.4" cy="2494.6" rx="6.4" ry="4.2" fill="#fff" stroke="#0a0808" stroke-width="2.1" stroke-linecap="round" stroke-linejoin="round"/>
<line x1="1068.1" y1="2470.9" x2="975.1" y2="2511.6" fill="none" stroke="#0a0808" stroke-width="1.8" stroke-linecap="round" stroke-linejoin="round"/>
<text x="1078.5" y="2482.5" font-size="55" font-weight="normal" text-anchor="start" fill="#0a0808" stroke="#0a0808" stroke-width="2.2" stroke-linejoin="round" textLength="31" lengthAdjust="spacingAndGlyphs">E</text>
<text x="851.5" y="2649.3" font-size="55" font-weight="normal" text-anchor="start" fill="#0a0808" stroke="#0a0808" stroke-width="2.2" stroke-linejoin="round" textLength="36" lengthAdjust="spacingAndGlyphs">D</text>
<rect x="911.2" y="2550.5" width="25" height="105.5" fill="#0a0808"/>
<rect x="917.2" y="2555" width="13" height="6.2" fill="#fff"/>
<rect x="917.2" y="2566.3" width="13" height="6.2" fill="#fff"/>
<rect x="917.2" y="2577.6" width="13" height="6.2" fill="#fff"/>
<rect x="917.2" y="2588.8" width="13" height="6.2" fill="#fff"/>
<rect x="917.2" y="2600.1" width="13" height="6.2" fill="#fff"/>
<rect x="917.2" y="2611.4" width="13" height="6.2" fill="#fff"/>
<rect x="917.2" y="2622.7" width="13" height="6.2" fill="#fff"/>
<rect x="917.2" y="2633.9" width="13" height="6.2" fill="#fff"/>
<rect x="917.2" y="2645.2" width="13" height="6.2" fill="#fff"/>
<rect x="898.4" y="2655" width="47.6" height="18" fill="#0a0808"/>
<rect x="903.4" y="2660" width="37.6" height="8" fill="#fff"/>
<path d="M997.2,2655.1C995.8,2658.3 993.1,2668.5 988.5,2674.3C983.8,2680.1 977.4,2685.6 969.3,2690C961.3,2694.3 950.4,2698.3 940.3,2700.4C930.1,2702.6 918.5,2703.2 908.3,2702.8C898.1,2702.4 884.1,2698.9 879.2,2698.1" fill="none" stroke="#0a0808" stroke-width="5.4" stroke-linejoin="round"/>
<path d="M845.5,2671.4L899.6,2680.1L881.6,2697L873.4,2722.5Z" fill="#0a0808" stroke="#0a0808" stroke-width="0.8" stroke-linecap="round" stroke-linejoin="round"/>
<line x1="921" y1="2686" x2="921" y2="2733" fill="none" stroke="#0a0808" stroke-width="1.4" stroke-linejoin="round" stroke-dasharray="9 3"/>
<ellipse cx="921" cy="2741" rx="10.5" ry="6" fill="#fff" stroke="#0a0808" stroke-width="2.2" stroke-linecap="round" stroke-linejoin="round"/>
<ellipse cx="921" cy="2742" rx="5" ry="2.6" fill="none" stroke="#0a0808" stroke-width="1.5" stroke-linecap="round" stroke-linejoin="round"/>
<path d="M1594.9,3037.3L1592.9,3051.8L1814.2,3312.3L1869,3283.3L1869.9,3267.3L1648.6,3014.5Z" fill="#fff" stroke="#0a0808" stroke-width="2.5" stroke-linecap="round" stroke-linejoin="round"/>
<path d="M1594.9,3037.3L1648.6,3014.5L1869.9,3267.3L1814.2,3296.4Z" fill="#fff" stroke="#0a0808" stroke-width="2.5" stroke-linecap="round" stroke-linejoin="round"/>
<path d="M1814.2,3296.4L1814.2,3312.3" fill="none" stroke="#0a0808" stroke-width="2.5" stroke-linecap="round" stroke-linejoin="round"/>
<path d="M1981.3,2882.3L1982.3,2896.9L2218.6,3098.8L2263.1,3064.9L2262.2,3049.4L2026.3,2854.2Z" fill="#fff" stroke="#0a0808" stroke-width="2.5" stroke-linecap="round" stroke-linejoin="round"/>
<path d="M1981.3,2882.3L2026.3,2854.2L2262.2,3049.4L2217.6,3083.3Z" fill="#fff" stroke="#0a0808" stroke-width="2.5" stroke-linecap="round" stroke-linejoin="round"/>
<path d="M2217.6,3083.3L2218.6,3098.8" fill="none" stroke="#0a0808" stroke-width="2.5" stroke-linecap="round" stroke-linejoin="round"/>
<path d="M1731.9,3102.2L2054.9,2957.9" fill="none" stroke="#0a0808" stroke-width="2.5" stroke-linecap="round" stroke-linejoin="round"/>
<path d="M1775.5,3149.6L2100.9,2995.2" fill="none" stroke="#0a0808" stroke-width="2.5" stroke-linecap="round" stroke-linejoin="round"/>
<path d="M1780.3,3162.2L2106.2,3006.3" fill="none" stroke="#0a0808" stroke-width="2.5" stroke-linecap="round" stroke-linejoin="round"/>
<text x="2022" y="3152.5" font-size="69" font-weight="bold" text-anchor="start" fill="#0a0808" >2</text>
<path d="M1738.2,3106.1C1736.7,3103.1 1743.1,3100.2 1749.8,3099.3C1756.6,3098.4 1812.3,3095.2 1819.1,3095.4C1825.9,3095.6 1829.5,3099.4 1831.2,3101.2C1832.9,3103 1839.9,3115.3 1839.9,3117.2C1839.9,3119 1836.2,3121.6 1831.2,3123.5C1826.2,3125.4 1785.6,3139.1 1780.3,3140C1775.1,3140.8 1771.7,3137 1768.2,3134.1C1764.7,3131.3 1739.7,3109 1738.2,3106.1Z" fill="#fff" stroke="#0a0808" stroke-width="3" stroke-linecap="round" stroke-linejoin="round"/>
<path d="M1738.2,3109C1740.7,3111.4 1764.7,3135.1 1768.2,3138C1771.7,3140.9 1775.1,3144.7 1780.3,3143.8C1785.6,3142.9 1826.1,3129.4 1831.2,3127.4C1836.2,3125.3 1840.1,3120.3 1840.9,3119.6" fill="none" stroke="#0a0808" stroke-width="2" stroke-linecap="round" stroke-linejoin="round"/>
<ellipse cx="1748.9" cy="3106.1" rx="4" ry="2.6" fill="#fff" stroke="#0a0808" stroke-width="2" stroke-linecap="round" stroke-linejoin="round"/>
<ellipse cx="1783.7" cy="3133.7" rx="4" ry="2.6" fill="#fff" stroke="#0a0808" stroke-width="2" stroke-linecap="round" stroke-linejoin="round"/>
<ellipse cx="1827.3" cy="3115.7" rx="4" ry="2.6" fill="#fff" stroke="#0a0808" stroke-width="2" stroke-linecap="round" stroke-linejoin="round"/>
<path d="M1757.4,2432L1755.6,3097.8L1781.3,3122L1813.3,3114.8L1813.3,2432" fill="#fff" stroke="#0a0808" stroke-width="5.2" stroke-linecap="round"/>
<path d="M1781.6,2428L1781.3,3122" fill="none" stroke="#0a0808" stroke-width="5.2" stroke-linecap="round" stroke-linejoin="round"/>
<path d="M1669.3,2469L1669.3,2487.2A23.7,10.6 0 0 0 1716.8,2487.2L1716.8,2469" fill="#fff" stroke="#0a0808" stroke-width="5" stroke-linecap="round" stroke-linejoin="round"/>
<ellipse cx="1693.1" cy="2469" rx="23.7" ry="10.6" fill="#fff" stroke="#0a0808" stroke-width="5" stroke-linecap="round" stroke-linejoin="round"/>
<path d="M1672.7,2478.3A21.2,8.9 0 0 0 1713.4,2478.3" fill="none" stroke="#0a0808" stroke-width="4.2" stroke-linecap="round" stroke-linejoin="round"/>
<path d="M1685.8,2464.7L1685.8,2439.3L1699.8,2439.3L1699.8,2464.7" fill="#fff" stroke="#0a0808" stroke-width="5" stroke-linecap="round" stroke-linejoin="round"/>
<path d="M1685.8,2463.9C1687,2464.6 1690.7,2468.1 1693.1,2468.1C1695.4,2468.1 1698.7,2464.6 1699.8,2463.9" fill="none" stroke="#0a0808" stroke-width="4.5" stroke-linecap="round" stroke-linejoin="round"/>
<path d="M1688,2430.8L1698.1,2430.8L1698.1,2442.7L1688,2442.7Z" fill="#0a0808" stroke="#0a0808" stroke-width="2" stroke-linecap="round" stroke-linejoin="round"/>
<path d="M1685.4,2394.4L1685.4,2427.5L1699.8,2438.5L1719.3,2443.6L1741.4,2442.7L1755.8,2434.2L1761.7,2422.4L1736.3,2408L1707.5,2396.9Z" fill="#fff"/>
<path d="M1699.8,2438.5C1703.1,2439.4 1712.4,2443 1719.3,2443.7C1726.2,2444.5 1735.3,2444.4 1741.4,2442.9C1747.4,2441.3 1752.3,2437.5 1755.8,2434.4C1759.2,2431.3 1761.1,2425.8 1762.1,2424.1" fill="none" stroke="#0a0808" stroke-width="5" stroke-linecap="round" stroke-linejoin="round"/>
<path d="M1743.5,2417.3L1743.5,2439.7" fill="none" stroke="#0a0808" stroke-width="5.5" stroke-linecap="round" stroke-linejoin="round"/>
<path d="M1726.1,2409.7C1726.9,2411.4 1730.9,2416.5 1730.8,2419.8C1730.6,2423.1 1727.9,2427.2 1725.3,2429.6C1722.6,2432 1716.8,2433.5 1715.1,2434.2" fill="none" stroke="#0a0808" stroke-width="6.5" stroke-linecap="round" stroke-linejoin="round"/>
<ellipse cx="1710" cy="2415.2" rx="7.8" ry="11.4" fill="#fff" stroke="#0a0808" stroke-width="6.5" stroke-linecap="round" stroke-linejoin="round" transform="rotate(-8 1710 2415.2)"/>
<path d="M1688,2399.5L1699.8,2401.2L1702.4,2419.8L1714.2,2430.8L1707.5,2431.7L1688,2419.8Z" fill="#0a0808" stroke="#0a0808" stroke-width="2" stroke-linecap="round" stroke-linejoin="round"/>
<ellipse cx="1710" cy="2415.2" rx="5.1" ry="8.9" fill="#fff" transform="rotate(-8 1710 2415.2)"/>
<path d="M1685.4,2394.8L1685.4,2413.9" fill="none" stroke="#0a0808" stroke-width="6" stroke-linejoin="round"/>
<path d="M1684.2,2414.7L1684.2,2425.8L1688,2427.5" fill="none" stroke="#0a0808" stroke-width="8" stroke-linecap="round" stroke-linejoin="round"/>
<path d="M1685.4,2424.1L1707.5,2435.9" fill="none" stroke="#0a0808" stroke-width="6" stroke-linecap="round" stroke-linejoin="round"/>
<path d="M1688,2420.3L1704.1,2429.6" fill="none" stroke="#fff" stroke-width="2.2" stroke-linecap="round" stroke-linejoin="round"/>
<path d="M1689.2,2397.8L1696.4,2402" fill="none" stroke="#fff" stroke-width="3" stroke-linecap="round" stroke-linejoin="round"/>
<path d="M1934,2430L1934,2445.7A24.2,11.1 0 0 0 1982.4,2445.7L1982.4,2430" fill="#fff" stroke="#0a0808" stroke-width="4.6" stroke-linecap="round" stroke-linejoin="round"/>
<ellipse cx="1958.2" cy="2430" rx="24.2" ry="11.1" fill="#fff" stroke="#0a0808" stroke-width="4.6" stroke-linecap="round" stroke-linejoin="round"/>
<path d="M1938,2439.1A21.6,9.1 0 0 0 1978.4,2439.1" fill="none" stroke="#0a0808" stroke-width="3" stroke-linecap="round" stroke-linejoin="round"/>
<path d="M1952.2,2432L1952.2,2416L1964.2,2416L1964.2,2432" fill="#fff" stroke="#0a0808" stroke-width="3.6" stroke-linecap="round" stroke-linejoin="round"/>
<ellipse cx="1958.2" cy="2432.5" rx="6" ry="2.6" fill="#fff" stroke="#0a0808" stroke-width="3" stroke-linecap="round" stroke-linejoin="round"/>
<path d="M1594.4,2279.2C1594.4,2282.6 1593.3,2293.1 1594.5,2299.9C1595.7,2306.7 1597.6,2312.9 1601.8,2319.9C1606,2326.9 1611.4,2333.8 1619.9,2341.7C1628.4,2349.6 1641.1,2358.9 1652.6,2367.1C1664.1,2375.3 1673.9,2383.2 1689,2390.7C1704.1,2398.3 1725.3,2406.5 1743.4,2412.5C1761.5,2418.6 1782.8,2424.3 1797.9,2427C1813,2429.8 1820.6,2429.4 1834.2,2428.8C1847.8,2428.2 1872,2424.3 1879.6,2423.4L2242.1,2362.8C2244.6,2361.4 2253.7,2358 2256.9,2354.1C2260.1,2350.3 2260.7,2345.4 2261.4,2339.6C2262.2,2333.8 2261.3,2322.6 2261.3,2319.3Z" fill="#fff"/>
<path d="M2001.8,2182.5C2006.9,2181.7 2021.1,2177.8 2032.6,2178C2044.1,2178.1 2056.8,2179.9 2070.8,2183.4C2084.7,2186.9 2101,2192.5 2116.2,2198.8C2131.3,2205.2 2146.4,2212.6 2161.6,2221.5C2176.7,2230.5 2194.3,2242.7 2207,2252.4C2219.7,2262.1 2230,2271.5 2237.8,2279.6C2245.7,2287.8 2250.4,2295.1 2254.2,2301.4C2258,2307.8 2259.8,2312.9 2260.5,2317.8C2261.3,2322.6 2261.3,2326.7 2258.7,2330.5C2256.1,2334.3 2247.4,2338.8 2245.1,2340.5L1879.6,2399.8C1870.5,2400.7 1841.8,2405.2 1825.1,2405.2C1808.5,2405.2 1796.3,2403.4 1779.7,2399.8C1763.1,2396.2 1743.5,2390.5 1725.3,2383.5C1707.2,2376.5 1685.9,2366.2 1670.8,2358C1655.7,2349.8 1644.5,2342 1634.5,2334.4C1624.5,2326.8 1616.7,2319.5 1610.9,2312.6C1605.2,2305.6 1602.1,2298.7 1600,2292.7C1597.9,2286.6 1597.3,2281.7 1598.2,2276.3C1599.1,2270.8 1600.9,2264.7 1605.4,2260C1609.9,2255.3 1614.5,2251.6 1625.4,2248.2C1636.3,2244.9 1663.2,2241.4 1670.8,2240L1699.5,2235.1" fill="#fff" stroke="#0a0808" stroke-width="4.4" stroke-linecap="round" stroke-linejoin="round"/>
<path d="M1594.4,2279.2C1594.4,2282.6 1593.3,2293.1 1594.5,2299.9C1595.7,2306.7 1597.6,2312.9 1601.8,2319.9C1606,2326.9 1611.4,2333.8 1619.9,2341.7C1628.4,2349.6 1641.1,2358.9 1652.6,2367.1C1664.1,2375.3 1673.9,2383.2 1689,2390.7C1704.1,2398.3 1725.3,2406.5 1743.4,2412.5C1761.5,2418.6 1782.8,2424.3 1797.9,2427C1813,2429.8 1820.6,2429.4 1834.2,2428.8C1847.8,2428.2 1872,2424.3 1879.6,2423.4L2242.1,2362.8C2244.6,2361.4 2253.7,2358 2256.9,2354.1C2260.1,2350.3 2260.7,2345.4 2261.4,2339.6C2262.2,2333.8 2261.3,2322.6 2261.3,2319.3" fill="none" stroke="#0a0808" stroke-width="4.4" stroke-linecap="round" stroke-linejoin="round"/>
<path d="M1717.2,2220.9L1978.3,2177.7L2027.5,2197.8L2027.5,2203.7L1703.3,2256.6L1689.8,2241.6Z" fill="#fff" stroke="#0a0808" stroke-width="4" stroke-linecap="round" stroke-linejoin="round"/>
<path d="M1728.5,2229.6L1980.5,2186.5" fill="none" stroke="#0a0808" stroke-width="3.4" stroke-linecap="round" stroke-linejoin="round"/>
<path d="M1703.3,2256.6C1705.2,2255.2 1711.4,2251.1 1715,2247.9C1718.7,2244.7 1722.8,2240.5 1725.1,2237.5C1727.3,2234.4 1728,2230.9 1728.5,2229.6" fill="none" stroke="#0a0808" stroke-width="3.4" stroke-linecap="round" stroke-linejoin="round"/>
<path d="M1717.2,2220.9C1715.4,2222.9 1710.9,2229.6 1706.3,2233.1C1701.7,2236.5 1692.5,2240.2 1689.8,2241.6" fill="none" stroke="#0a0808" stroke-width="3.4" stroke-linecap="round" stroke-linejoin="round"/>
<path d="M1728.5,2229.6L1717.2,2220.9" fill="none" stroke="#0a0808" stroke-width="3.4" stroke-linecap="round" stroke-linejoin="round"/>
<path d="M1978.3,2177.7L2027.5,2197.8" fill="none" stroke="#0a0808" stroke-width="5.9" stroke-linecap="round" stroke-linejoin="round"/>
<path d="M1980.5,2186.5L2017.9,2199.1" fill="none" stroke="#0a0808" stroke-width="3.2" stroke-linecap="round" stroke-linejoin="round"/>
<path d="M1867.3,2358.5L2128.3,2315.3L2177.6,2335.4L2177.6,2341.3L1853.3,2394.2L1839.8,2379.2Z" fill="#fff" stroke="#0a0808" stroke-width="4" stroke-linecap="round" stroke-linejoin="round"/>
<path d="M1878.6,2367.2L2130.5,2324.1" fill="none" stroke="#0a0808" stroke-width="3.4" stroke-linecap="round" stroke-linejoin="round"/>
<path d="M1853.3,2394.2C1855.3,2392.8 1861.5,2388.7 1865.1,2385.5C1868.7,2382.3 1872.9,2378.1 1875.1,2375.1C1877.4,2372 1878,2368.5 1878.6,2367.2" fill="none" stroke="#0a0808" stroke-width="3.4" stroke-linecap="round" stroke-linejoin="round"/>
<path d="M1867.3,2358.5C1865.5,2360.5 1861,2367.2 1856.4,2370.7C1851.8,2374.1 1842.6,2377.8 1839.8,2379.2" fill="none" stroke="#0a0808" stroke-width="3.4" stroke-linecap="round" stroke-linejoin="round"/>
<path d="M1878.6,2367.2L1867.3,2358.5" fill="none" stroke="#0a0808" stroke-width="3.4" stroke-linecap="round" stroke-linejoin="round"/>
<path d="M2128.3,2315.3L2177.6,2335.4" fill="none" stroke="#0a0808" stroke-width="5.9" stroke-linecap="round" stroke-linejoin="round"/>
<path d="M2130.5,2324.1L2168,2336.7" fill="none" stroke="#0a0808" stroke-width="3.2" stroke-linecap="round" stroke-linejoin="round"/>
<circle cx="1769.1" cy="2443.9" r="4.6" fill="#fff" stroke="#0a0808" stroke-width="3" stroke-linecap="round" stroke-linejoin="round"/>
<circle cx="1798.4" cy="2445.3" r="4.6" fill="#fff" stroke="#0a0808" stroke-width="3" stroke-linecap="round" stroke-linejoin="round"/>
<line x1="1771" y1="2448" x2="1758" y2="2470" fill="none" stroke="#0a0808" stroke-width="2.8" stroke-linecap="round" stroke-linejoin="round"/>
<line x1="1756" y1="2473" x2="1696" y2="2535" fill="none" stroke="#0a0808" stroke-width="3.4" stroke-linejoin="round" stroke-dasharray="16 8.5"/>
<line x1="1800" y1="2449" x2="1816" y2="2462" fill="none" stroke="#0a0808" stroke-width="2.8" stroke-linecap="round" stroke-linejoin="round"/>
<line x1="1819" y1="2464" x2="1892" y2="2522" fill="none" stroke="#0a0808" stroke-width="3.4" stroke-linejoin="round" stroke-dasharray="12 8"/>
<path d="M1663.5,2556L1687.1,2543.3" fill="none" stroke="#0a0808" stroke-width="8.6" stroke-linejoin="round"/>
<path d="M1666.6,2554.4L1686.5,2543.6" fill="none" stroke="#fff" stroke-width="1.6" stroke-linejoin="round" stroke-dasharray="2.2 4.4"/>
<path d="M1686.5,2543.5L1696.2,2535" fill="none" stroke="#0a0808" stroke-width="3.4" stroke-linecap="round" stroke-linejoin="round"/>
<path d="M1652.6,2535.8C1654,2537.8 1658.6,2543.2 1660.9,2548.1C1663.2,2553 1666.7,2559.4 1666.4,2565.1C1666.2,2570.7 1662.2,2577.1 1659.4,2582C1656.6,2586.9 1651.2,2592.3 1649.6,2594.4" fill="none" stroke="#0a0808" stroke-width="3.2" stroke-linecap="round" stroke-linejoin="round"/>
<path d="M1647.8,2535.8C1650.2,2535.6 1652.6,2542.7 1654.5,2546.9C1656.3,2551.1 1660.1,2558.8 1659.9,2563.8C1659.7,2568.9 1656,2576.2 1653.2,2580.8C1650.5,2585.4 1644.3,2594.7 1641.7,2594.8C1639.1,2595 1637.3,2586.3 1635.9,2582C1634.6,2577.7 1632.4,2571.4 1632.8,2566.3C1633.2,2561.2 1636.5,2552.7 1638.7,2548.1C1641,2543.5 1645.4,2535.9 1647.8,2535.8Z" fill="#fff" stroke="#0a0808" stroke-width="3.2" stroke-linecap="round" stroke-linejoin="round"/>
<path d="M1647.8,2535.8L1652.6,2535.8" fill="none" stroke="#0a0808" stroke-width="3.2" stroke-linecap="round" stroke-linejoin="round"/>
<path d="M1641.7,2594.8L1649.6,2594.4" fill="none" stroke="#0a0808" stroke-width="3.2" stroke-linecap="round" stroke-linejoin="round"/>
<circle cx="1646" cy="2567.5" r="5.4" fill="#fff" stroke="#0a0808" stroke-width="4.4" stroke-linecap="round" stroke-linejoin="round"/>
<path d="M1909.4,2528.3L1885.8,2515.6" fill="none" stroke="#0a0808" stroke-width="8.6" stroke-linejoin="round"/>
<path d="M1906.4,2526.7L1886.4,2516" fill="none" stroke="#fff" stroke-width="1.6" stroke-linejoin="round" stroke-dasharray="2.2 4.4"/>
<path d="M1886.4,2515.8L1876.8,2507.4" fill="none" stroke="#0a0808" stroke-width="3.4" stroke-linecap="round" stroke-linejoin="round"/>
<path d="M1920.3,2508.1C1919,2510.1 1914.4,2515.5 1912.1,2520.4C1909.8,2525.3 1906.3,2531.7 1906.5,2537.4C1906.8,2543 1910.8,2549.4 1913.6,2554.3C1916.4,2559.2 1921.7,2564.6 1923.4,2566.7" fill="none" stroke="#0a0808" stroke-width="3.2" stroke-linecap="round" stroke-linejoin="round"/>
<path d="M1925.2,2508.1C1922.8,2507.9 1920.3,2515 1918.5,2519.2C1916.7,2523.4 1912.9,2531.1 1913.1,2536.2C1913.3,2541.3 1917,2548.5 1919.7,2553.1C1922.5,2557.8 1928.6,2567 1931.2,2567.2C1933.8,2567.3 1935.7,2558.6 1937,2554.3C1938.4,2550 1940.6,2543.7 1940.2,2538.6C1939.8,2533.5 1936.5,2525 1934.3,2520.4C1932,2515.9 1927.5,2508.3 1925.2,2508.1Z" fill="#fff" stroke="#0a0808" stroke-width="3.2" stroke-linecap="round" stroke-linejoin="round"/>
<path d="M1925.2,2508.1L1920.3,2508.1" fill="none" stroke="#0a0808" stroke-width="3.2" stroke-linecap="round" stroke-linejoin="round"/>
<path d="M1931.2,2567.2L1923.4,2566.7" fill="none" stroke="#0a0808" stroke-width="3.2" stroke-linecap="round" stroke-linejoin="round"/>
<circle cx="1927" cy="2539.8" r="5.4" fill="#fff" stroke="#0a0808" stroke-width="4.4" stroke-linecap="round" stroke-linejoin="round"/>
<path d="M1612.7,2582C1614.3,2584.8 1620.4,2593.6 1622.4,2599C1624.4,2604.4 1625.8,2610.1 1624.8,2614.7C1623.8,2619.3 1619.3,2625.6 1616.3,2626.8C1613.3,2628 1609.2,2624.4 1606.6,2622C1604,2619.6 1601.6,2613.9 1600.6,2612.3" fill="none" stroke="#0a0808" stroke-width="4.2" stroke-linecap="round" stroke-linejoin="round"/>
<path d="M1593.3,2592.9L1586.8,2616.5L1607,2606.2Z" fill="#0a0808" stroke="#0a0808" stroke-width="1" stroke-linecap="round" stroke-linejoin="round"/>
<path d="M1932.9,2599.7C1936.2,2599 1947.7,2599.3 1952.9,2595.7C1958.1,2592.1 1961.9,2583.4 1964,2578C1966.1,2572.6 1966.5,2567.2 1965.5,2563C1964.5,2558.8 1959.4,2554.8 1958.2,2553.1" fill="none" stroke="#0a0808" stroke-width="4.2" stroke-linecap="round" stroke-linejoin="round"/>
<path d="M1943.5,2552L1957.5,2543.5L1961,2566Z" fill="#0a0808" stroke="#0a0808" stroke-width="1" stroke-linecap="round" stroke-linejoin="round"/>
<text x="1631.5" y="2659.5" font-size="66.8" font-weight="normal" text-anchor="start" fill="#0a0808" stroke="#0a0808" stroke-width="1.4" stroke-linejoin="round" >B</text>
<text x="1891.5" y="2630.4" font-size="66.8" font-weight="normal" text-anchor="start" fill="#0a0808" stroke="#0a0808" stroke-width="1.4" stroke-linejoin="round" >B</text>
<line x1="1986.8" y1="2567.7" x2="2148.3" y2="2577.6" fill="none" stroke="#0a0808" stroke-width="3.2" stroke-linejoin="round" stroke-dasharray="14 10"/>
<clipPath id="c4"><circle cx="2119.7" cy="2685.3" r="143.4"/></clipPath>
<g clip-path="url(#c4)">
<path d="M2155.5,2841.1L2155.5,2583.8L2210.1,2616.7L2210.1,2841.1" fill="#fff" stroke="#0a0808" stroke-width="2.2" stroke-linecap="round" stroke-linejoin="round"/>
<path d="M2155.5,2583.8L2178.2,2570.4" fill="none" stroke="#0a0808" stroke-width="2.2" stroke-linecap="round" stroke-linejoin="round"/>
<path d="M2210.1,2616.7L2248.1,2592" fill="none" stroke="#0a0808" stroke-width="2.2" stroke-linecap="round" stroke-linejoin="round"/>
<path d="M2178.2,2540.6L2178.2,2581.7" fill="none" stroke="#0a0808" stroke-width="2.2" stroke-linecap="round" stroke-linejoin="round"/>
<path d="M2178.2,2581.7C2179.2,2583.5 2181.2,2589.1 2184.3,2592C2187.4,2594.9 2191.9,2597.7 2196.7,2599.2C2201.5,2600.8 2207,2601.7 2213.1,2601.3C2219.3,2600.8 2230.3,2597.4 2233.7,2596.6" fill="none" stroke="#0a0808" stroke-width="2.2" stroke-linecap="round" stroke-linejoin="round"/>
</g>
<circle cx="2119.7" cy="2685.3" r="144.3" fill="none" stroke="#0a0808" stroke-width="2.2" stroke-linecap="round" stroke-linejoin="round"/>
<path d="M2165.8,2651.7L2169.9,2657.5L2185.4,2663.5L2197.1,2646.6L2195.7,2643.5" fill="none" stroke="#0a0808" stroke-width="1.8" stroke-linecap="round" stroke-linejoin="round"/>
<path d="M2162.7,2635.3L2174,2621.3L2188.9,2625L2195.7,2643.5L2183.9,2660L2168.3,2654.2Z" fill="#fff" stroke="#0a0808" stroke-width="2.2" stroke-linecap="round" stroke-linejoin="round"/>
<circle cx="2173" cy="2643.5" r="6.5" fill="none" stroke="#0a0808" stroke-width="1.8" stroke-linecap="round" stroke-linejoin="round"/>
<circle cx="2173.6" cy="2643.9" r="2.6" fill="none" stroke="#0a0808" stroke-width="1.5" stroke-linecap="round" stroke-linejoin="round"/>
<line x1="2165.8" y1="2646.6" x2="2107.2" y2="2679.5" fill="none" stroke="#0a0808" stroke-width="1.5" stroke-linejoin="round" stroke-dasharray="11 4"/>
<path d="M2089.3,2687.7L2106.5,2681.2" fill="none" stroke="#0a0808" stroke-width="8" stroke-linejoin="round"/>
<path d="M2089.3,2687.7L2106.5,2681.2" fill="none" stroke="#fff" stroke-width="5.5" stroke-linejoin="round" stroke-dasharray="1.6 1.8"/>
<path d="M2072.2,2689.2C2074.1,2688.8 2080.1,2686.7 2083.5,2687.1C2086.9,2687.6 2091.4,2689.9 2092.7,2691.9C2094.1,2693.8 2093.6,2697.6 2091.7,2699.1C2089.8,2700.5 2083.1,2700.4 2081.4,2700.7" fill="#fff" stroke="#0a0808" stroke-width="2" stroke-linecap="round" stroke-linejoin="round"/>
<path d="M2057.3,2675.2C2059.9,2673.3 2063.5,2670 2066.6,2670C2069.7,2670 2074.2,2672.3 2075.9,2675.2C2077.6,2678.1 2075,2684.4 2076.9,2687.5C2078.8,2690.6 2085.1,2690.6 2087.2,2693.7C2089.3,2696.8 2090.7,2702.8 2089.7,2706.1C2088.6,2709.3 2082.1,2710.7 2081,2713.3C2079.9,2715.8 2083.9,2718.9 2083.1,2721.5C2082.2,2724.1 2079,2727.3 2075.9,2728.7C2072.8,2730.1 2067.8,2730.9 2064.6,2729.7C2061.3,2728.5 2058,2724.2 2056.3,2721.5C2054.6,2718.7 2056.5,2714.8 2054.3,2713.3C2052,2711.7 2045.9,2713.8 2042.9,2712.2C2040,2710.7 2037.5,2707.1 2036.8,2704C2036.1,2700.9 2036.8,2696.1 2038.8,2693.7C2040.9,2691.3 2047.1,2691.6 2049.1,2689.6C2051.2,2687.5 2049.8,2683.8 2051.2,2681.4C2052.5,2679 2054.8,2677.1 2057.3,2675.2Z" fill="#fff" stroke="#0a0808" stroke-width="1.8" stroke-linecap="round" stroke-linejoin="round"/>
<path d="M2053.6,2676.4C2056.2,2674.5 2059.8,2671.3 2062.9,2671.3C2066,2671.3 2070.5,2673.5 2072.2,2676.4C2073.9,2679.3 2071.3,2685.7 2073.2,2688.8C2075.1,2691.9 2081.4,2691.9 2083.5,2694.9C2085.6,2698 2087,2704 2086,2707.3C2084.9,2710.5 2078.4,2711.9 2077.3,2714.5C2076.2,2717.1 2080.2,2720.2 2079.4,2722.7C2078.5,2725.3 2075.3,2728.6 2072.2,2729.9C2069.1,2731.3 2064.1,2732.2 2060.8,2731C2057.6,2729.8 2054.3,2725.5 2052.6,2722.7C2050.9,2720 2052.8,2716 2050.6,2714.5C2048.3,2712.9 2042.2,2715 2039.2,2713.5C2036.3,2711.9 2033.7,2708.3 2033.1,2705.2C2032.4,2702.1 2033.1,2697.3 2035.1,2694.9C2037.2,2692.5 2043.4,2692.9 2045.4,2690.8C2047.5,2688.8 2046.1,2685 2047.5,2682.6C2048.8,2680.2 2051.1,2678.3 2053.6,2676.4Z" fill="#fff" stroke="#0a0808" stroke-width="2.2" stroke-linecap="round" stroke-linejoin="round"/>
<path d="M2130.8,2740.2C2132.9,2736.4 2140.2,2725.1 2143.2,2717.6C2146.2,2710 2148.4,2703.2 2148.9,2694.9C2149.5,2686.7 2148.6,2676.8 2146.3,2668.2C2143.9,2659.6 2139.6,2650.3 2134.9,2643.5C2130.3,2636.6 2123.6,2630.9 2118.5,2627C2113.3,2623.2 2106.5,2621.5 2104.1,2620.4" fill="none" stroke="#0a0808" stroke-width="3.6" stroke-linejoin="round"/>
<path d="M2071.1,2614.7L2113.3,2606.4L2104.1,2620.8L2106.1,2638.3Z" fill="#0a0808" stroke="#0a0808" stroke-width="1" stroke-linecap="round" stroke-linejoin="round"/>
<text x="2075.5" y="2799.9" font-size="66" font-weight="normal" text-anchor="start" fill="#0a0808" stroke="#0a0808" stroke-width="1.4" stroke-linejoin="round" >B</text>
</svg>
</body></html>
